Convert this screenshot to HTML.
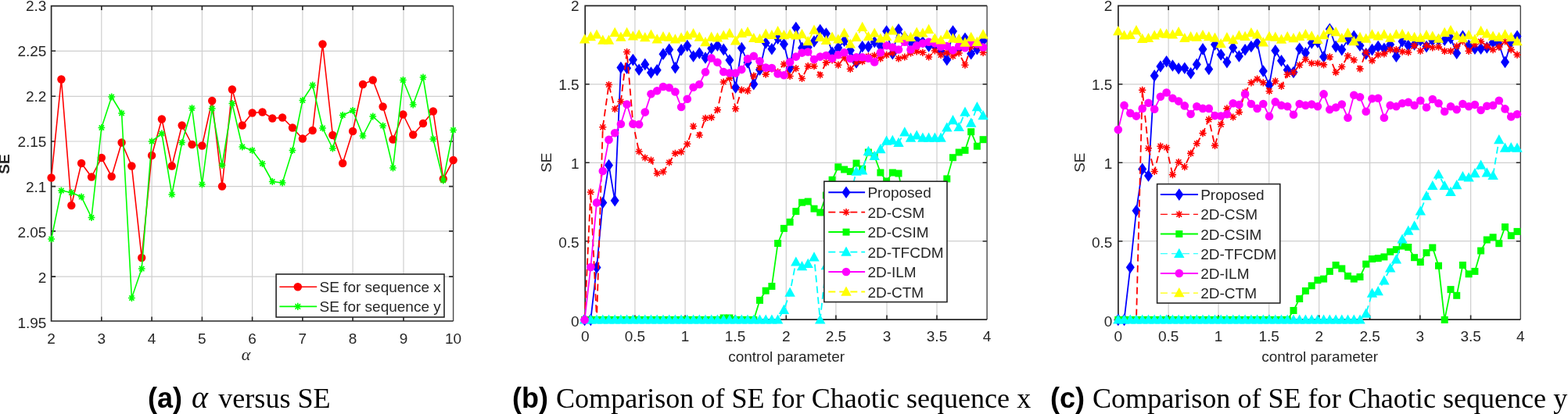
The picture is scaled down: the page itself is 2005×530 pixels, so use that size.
<!DOCTYPE html><html><head><meta charset="utf-8"><style>html,body{margin:0;padding:0;background:#fff;width:2005px;height:530px;overflow:hidden}svg{display:block}text{font-family:"Liberation Sans",Arial,sans-serif;font-size:19px;fill:#262626}.cap{font-family:"Liberation Serif","Times New Roman",serif;font-size:36.1px;fill:#000}.capb{font-family:"Liberation Sans",Arial,sans-serif;font-weight:bold;font-size:36px;fill:#000}</style></head><body>
<svg width="2005" height="530" viewBox="0 0 2005 530">
<rect width="2005" height="530" fill="#fff"/>
<path d="M129.8 7.6V411M194.1 7.6V411M258.4 7.6V411M322.6 7.6V411M386.9 7.6V411M451.1 7.6V411M516 7.6V411M65.6 65.3H579.6M65.6 123.3H579.6M65.6 181H579.6M65.6 238.6H579.6M65.6 295.9H579.6M65.6 354.1H579.6" stroke="rgba(38,38,38,0.22)" stroke-width="1.2" fill="none"/>
<path d="M129.8 411v-5.5M129.8 7.6v5.5M194.1 411v-5.5M194.1 7.6v5.5M258.4 411v-5.5M258.4 7.6v5.5M322.6 411v-5.5M322.6 7.6v5.5M386.9 411v-5.5M386.9 7.6v5.5M451.1 411v-5.5M451.1 7.6v5.5M516 411v-5.5M516 7.6v5.5M65.6 65.3h5.5M579.6 65.3h-5.5M65.6 123.3h5.5M579.6 123.3h-5.5M65.6 181h5.5M579.6 181h-5.5M65.6 238.6h5.5M579.6 238.6h-5.5M65.6 295.9h5.5M579.6 295.9h-5.5M65.6 354.1h5.5M579.6 354.1h-5.5" stroke="#262626" stroke-width="1.6" fill="none"/>
<path d="M579.6 7.6V411" stroke="#4a4a4a" stroke-width="1.4" fill="none"/>
<path d="M579.6 7.6H65.6V411H579.6" stroke="#262626" stroke-width="1.7" fill="none"/>
<polyline points="65.6,227.5 78.4,101.5 91.3,263 104.1,209 117,226.5 129.8,202 142.7,226 155.6,182.5 168.4,212.5 181.2,330 194.1,199 206.9,152.5 219.8,212.5 232.7,160.5 245.5,185 258.4,186.5 271.2,129 284,238.5 296.9,114.5 309.8,160.5 322.6,144.5 335.5,143.5 348.3,151.5 361.1,150.5 374,163.5 386.9,177.5 399.7,167 412.5,56.5 425.4,173 438.2,209 451.1,168 464,108 476.8,102.5 489.6,136.5 502.5,178.5 515.4,146.5 528.2,172.5 541,158 553.9,142.5 566.8,229 579.6,205" fill="none" stroke="#ff0000" stroke-width="1.6" stroke-linejoin="round"/><g><circle cx="65.6" cy="227.5" r="5.2" fill="#ff0000"/><circle cx="78.4" cy="101.5" r="5.2" fill="#ff0000"/><circle cx="91.3" cy="263" r="5.2" fill="#ff0000"/><circle cx="104.1" cy="209" r="5.2" fill="#ff0000"/><circle cx="117" cy="226.5" r="5.2" fill="#ff0000"/><circle cx="129.8" cy="202" r="5.2" fill="#ff0000"/><circle cx="142.7" cy="226" r="5.2" fill="#ff0000"/><circle cx="155.6" cy="182.5" r="5.2" fill="#ff0000"/><circle cx="168.4" cy="212.5" r="5.2" fill="#ff0000"/><circle cx="181.2" cy="330" r="5.2" fill="#ff0000"/><circle cx="194.1" cy="199" r="5.2" fill="#ff0000"/><circle cx="206.9" cy="152.5" r="5.2" fill="#ff0000"/><circle cx="219.8" cy="212.5" r="5.2" fill="#ff0000"/><circle cx="232.7" cy="160.5" r="5.2" fill="#ff0000"/><circle cx="245.5" cy="185" r="5.2" fill="#ff0000"/><circle cx="258.4" cy="186.5" r="5.2" fill="#ff0000"/><circle cx="271.2" cy="129" r="5.2" fill="#ff0000"/><circle cx="284" cy="238.5" r="5.2" fill="#ff0000"/><circle cx="296.9" cy="114.5" r="5.2" fill="#ff0000"/><circle cx="309.8" cy="160.5" r="5.2" fill="#ff0000"/><circle cx="322.6" cy="144.5" r="5.2" fill="#ff0000"/><circle cx="335.5" cy="143.5" r="5.2" fill="#ff0000"/><circle cx="348.3" cy="151.5" r="5.2" fill="#ff0000"/><circle cx="361.1" cy="150.5" r="5.2" fill="#ff0000"/><circle cx="374" cy="163.5" r="5.2" fill="#ff0000"/><circle cx="386.9" cy="177.5" r="5.2" fill="#ff0000"/><circle cx="399.7" cy="167" r="5.2" fill="#ff0000"/><circle cx="412.5" cy="56.5" r="5.2" fill="#ff0000"/><circle cx="425.4" cy="173" r="5.2" fill="#ff0000"/><circle cx="438.2" cy="209" r="5.2" fill="#ff0000"/><circle cx="451.1" cy="168" r="5.2" fill="#ff0000"/><circle cx="464" cy="108" r="5.2" fill="#ff0000"/><circle cx="476.8" cy="102.5" r="5.2" fill="#ff0000"/><circle cx="489.6" cy="136.5" r="5.2" fill="#ff0000"/><circle cx="502.5" cy="178.5" r="5.2" fill="#ff0000"/><circle cx="515.4" cy="146.5" r="5.2" fill="#ff0000"/><circle cx="528.2" cy="172.5" r="5.2" fill="#ff0000"/><circle cx="541" cy="158" r="5.2" fill="#ff0000"/><circle cx="553.9" cy="142.5" r="5.2" fill="#ff0000"/><circle cx="566.8" cy="229" r="5.2" fill="#ff0000"/><circle cx="579.6" cy="205" r="5.2" fill="#ff0000"/></g>
<polyline points="65.6,306 78.4,244 91.3,246.5 104.1,252 117,278.5 129.8,163.5 142.7,124 155.6,145 168.4,381.5 181.2,344 194.1,181 206.9,171 219.8,249 232.7,182.5 245.5,138.5 258.4,236 271.2,139 284,211.5 296.9,132.5 309.8,188 322.6,192.5 335.5,209.5 348.3,232.5 361.1,234 374,192.5 386.9,128.5 399.7,109 412.5,164 425.4,190 438.2,147.5 451.1,141.5 464,174 476.8,149 489.6,161 502.5,215 515.4,102.5 528.2,134 541,99 553.9,178 566.8,231 579.6,166.5" fill="none" stroke="#00ff00" stroke-width="1.6" stroke-linejoin="round"/><g><path d="M61.2 306H70M65.6 301.6V310.4M62.5 302.9L68.7 309.1M62.5 309.1L68.7 302.9" stroke="#00ff00" stroke-width="1.6" fill="none"/><path d="M74.1 244H82.8M78.4 239.6V248.4M75.3 240.9L81.6 247.1M75.3 247.1L81.6 240.9" stroke="#00ff00" stroke-width="1.6" fill="none"/><path d="M86.9 246.5H95.7M91.3 242.1V250.9M88.2 243.4L94.4 249.6M88.2 249.6L94.4 243.4" stroke="#00ff00" stroke-width="1.6" fill="none"/><path d="M99.8 252H108.5M104.1 247.6V256.4M101 248.9L107.3 255.1M101 255.1L107.3 248.9" stroke="#00ff00" stroke-width="1.6" fill="none"/><path d="M112.6 278.5H121.4M117 274.1V282.9M113.9 275.4L120.1 281.6M113.9 281.6L120.1 275.4" stroke="#00ff00" stroke-width="1.6" fill="none"/><path d="M125.5 163.5H134.2M129.8 159.1V167.9M126.7 160.4L133 166.6M126.7 166.6L133 160.4" stroke="#00ff00" stroke-width="1.6" fill="none"/><path d="M138.3 124H147.1M142.7 119.6V128.4M139.6 120.9L145.8 127.1M139.6 127.1L145.8 120.9" stroke="#00ff00" stroke-width="1.6" fill="none"/><path d="M151.2 145H159.9M155.6 140.6V149.4M152.4 141.9L158.7 148.1M152.4 148.1L158.7 141.9" stroke="#00ff00" stroke-width="1.6" fill="none"/><path d="M164 381.5H172.8M168.4 377.1V385.9M165.3 378.4L171.5 384.6M165.3 384.6L171.5 378.4" stroke="#00ff00" stroke-width="1.6" fill="none"/><path d="M176.9 344H185.6M181.2 339.6V348.4M178.1 340.9L184.4 347.1M178.1 347.1L184.4 340.9" stroke="#00ff00" stroke-width="1.6" fill="none"/><path d="M189.7 181H198.5M194.1 176.6V185.4M191 177.9L197.2 184.1M191 184.1L197.2 177.9" stroke="#00ff00" stroke-width="1.6" fill="none"/><path d="M202.6 171H211.3M206.9 166.6V175.4M203.8 167.9L210.1 174.1M203.8 174.1L210.1 167.9" stroke="#00ff00" stroke-width="1.6" fill="none"/><path d="M215.4 249H224.2M219.8 244.6V253.4M216.7 245.9L222.9 252.1M216.7 252.1L222.9 245.9" stroke="#00ff00" stroke-width="1.6" fill="none"/><path d="M228.3 182.5H237M232.7 178.1V186.9M229.5 179.4L235.8 185.6M229.5 185.6L235.8 179.4" stroke="#00ff00" stroke-width="1.6" fill="none"/><path d="M241.1 138.5H249.9M245.5 134.1V142.9M242.4 135.4L248.6 141.6M242.4 141.6L248.6 135.4" stroke="#00ff00" stroke-width="1.6" fill="none"/><path d="M254 236H262.7M258.4 231.6V240.4M255.2 232.9L261.5 239.1M255.2 239.1L261.5 232.9" stroke="#00ff00" stroke-width="1.6" fill="none"/><path d="M266.8 139H275.6M271.2 134.6V143.4M268.1 135.9L274.3 142.1M268.1 142.1L274.3 135.9" stroke="#00ff00" stroke-width="1.6" fill="none"/><path d="M279.7 211.5H288.4M284 207.1V215.9M280.9 208.4L287.2 214.6M280.9 214.6L287.2 208.4" stroke="#00ff00" stroke-width="1.6" fill="none"/><path d="M292.5 132.5H301.3M296.9 128.1V136.9M293.8 129.4L300 135.6M293.8 135.6L300 129.4" stroke="#00ff00" stroke-width="1.6" fill="none"/><path d="M305.4 188H314.1M309.8 183.6V192.4M306.6 184.9L312.9 191.1M306.6 191.1L312.9 184.9" stroke="#00ff00" stroke-width="1.6" fill="none"/><path d="M318.2 192.5H327M322.6 188.1V196.9M319.5 189.4L325.7 195.6M319.5 195.6L325.7 189.4" stroke="#00ff00" stroke-width="1.6" fill="none"/><path d="M331.1 209.5H339.8M335.5 205.1V213.9M332.3 206.4L338.6 212.6M332.3 212.6L338.6 206.4" stroke="#00ff00" stroke-width="1.6" fill="none"/><path d="M343.9 232.5H352.7M348.3 228.1V236.9M345.2 229.4L351.4 235.6M345.2 235.6L351.4 229.4" stroke="#00ff00" stroke-width="1.6" fill="none"/><path d="M356.8 234H365.5M361.1 229.6V238.4M358 230.9L364.3 237.1M358 237.1L364.3 230.9" stroke="#00ff00" stroke-width="1.6" fill="none"/><path d="M369.6 192.5H378.4M374 188.1V196.9M370.9 189.4L377.1 195.6M370.9 195.6L377.1 189.4" stroke="#00ff00" stroke-width="1.6" fill="none"/><path d="M382.5 128.5H391.2M386.9 124.1V132.9M383.7 125.4L390 131.6M383.7 131.6L390 125.4" stroke="#00ff00" stroke-width="1.6" fill="none"/><path d="M395.3 109H404.1M399.7 104.6V113.4M396.6 105.9L402.8 112.1M396.6 112.1L402.8 105.9" stroke="#00ff00" stroke-width="1.6" fill="none"/><path d="M408.2 164H416.9M412.5 159.6V168.4M409.4 160.9L415.7 167.1M409.4 167.1L415.7 160.9" stroke="#00ff00" stroke-width="1.6" fill="none"/><path d="M421 190H429.8M425.4 185.6V194.4M422.3 186.9L428.5 193.1M422.3 193.1L428.5 186.9" stroke="#00ff00" stroke-width="1.6" fill="none"/><path d="M433.9 147.5H442.6M438.2 143.1V151.9M435.1 144.4L441.4 150.6M435.1 150.6L441.4 144.4" stroke="#00ff00" stroke-width="1.6" fill="none"/><path d="M446.7 141.5H455.5M451.1 137.1V145.9M448 138.4L454.2 144.6M448 144.6L454.2 138.4" stroke="#00ff00" stroke-width="1.6" fill="none"/><path d="M459.6 174H468.3M464 169.6V178.4M460.8 170.9L467.1 177.1M460.8 177.1L467.1 170.9" stroke="#00ff00" stroke-width="1.6" fill="none"/><path d="M472.4 149H481.2M476.8 144.6V153.4M473.7 145.9L479.9 152.1M473.7 152.1L479.9 145.9" stroke="#00ff00" stroke-width="1.6" fill="none"/><path d="M485.3 161H494M489.6 156.6V165.4M486.5 157.9L492.8 164.1M486.5 164.1L492.8 157.9" stroke="#00ff00" stroke-width="1.6" fill="none"/><path d="M498.1 215H506.9M502.5 210.6V219.4M499.4 211.9L505.6 218.1M499.4 218.1L505.6 211.9" stroke="#00ff00" stroke-width="1.6" fill="none"/><path d="M511 102.5H519.7M515.4 98.1V106.9M512.2 99.4L518.5 105.6M512.2 105.6L518.5 99.4" stroke="#00ff00" stroke-width="1.6" fill="none"/><path d="M523.8 134H532.6M528.2 129.6V138.4M525.1 130.9L531.3 137.1M525.1 137.1L531.3 130.9" stroke="#00ff00" stroke-width="1.6" fill="none"/><path d="M536.7 99H545.4M541 94.6V103.4M537.9 95.9L544.2 102.1M537.9 102.1L544.2 95.9" stroke="#00ff00" stroke-width="1.6" fill="none"/><path d="M549.5 178H558.3M553.9 173.6V182.4M550.8 174.9L557 181.1M550.8 181.1L557 174.9" stroke="#00ff00" stroke-width="1.6" fill="none"/><path d="M562.4 231H571.1M566.8 226.6V235.4M563.6 227.9L569.9 234.1M563.6 234.1L569.9 227.9" stroke="#00ff00" stroke-width="1.6" fill="none"/><path d="M575.2 166.5H584M579.6 162.1V170.9M576.5 163.4L582.7 169.6M576.5 169.6L582.7 163.4" stroke="#00ff00" stroke-width="1.6" fill="none"/></g>
<text x="65.6" y="439.5" text-anchor="middle">2</text>
<text x="129.8" y="439.5" text-anchor="middle">3</text>
<text x="194.1" y="439.5" text-anchor="middle">4</text>
<text x="258.4" y="439.5" text-anchor="middle">5</text>
<text x="322.6" y="439.5" text-anchor="middle">6</text>
<text x="386.9" y="439.5" text-anchor="middle">7</text>
<text x="451.1" y="439.5" text-anchor="middle">8</text>
<text x="516" y="439.5" text-anchor="middle">9</text>
<text x="579.6" y="439.5" text-anchor="middle">10</text>
<text x="59.4" y="14.3" text-anchor="end">2.3</text>
<text x="59.4" y="72.3" text-anchor="end">2.25</text>
<text x="59.4" y="130.3" text-anchor="end">2.2</text>
<text x="59.4" y="188.3" text-anchor="end">2.15</text>
<text x="59.4" y="246.3" text-anchor="end">2.1</text>
<text x="59.4" y="304.3" text-anchor="end">2.05</text>
<text x="59.4" y="362.3" text-anchor="end">2</text>
<text x="59.4" y="420.3" text-anchor="end">1.95</text>
<text transform="translate(12 210) rotate(-90)" text-anchor="middle" font-weight="bold" font-size="19.5">SE</text>
<text x="314.5" y="460.5" text-anchor="middle" style="font-family:'Liberation Serif',serif;font-style:italic;font-size:22px">α</text>
<rect x="353.1" y="351" width="214.9" height="55" fill="#fff" stroke="#262626" stroke-width="1.6"/>
<line x1="357.4" y1="367.2" x2="405.2" y2="367.2" stroke="#ff0000" stroke-width="1.6"/><circle cx="380.8" cy="367.2" r="5.3" fill="#ff0000"/>
<line x1="357.4" y1="392.4" x2="405.2" y2="392.4" stroke="#00ff00" stroke-width="1.6"/><path d="M376.2 392.4H385.4M380.8 387.8V397M377.5 389.1L384.1 395.7M377.5 395.7L384.1 389.1" stroke="#00ff00" stroke-width="1.6" fill="none"/>
<text x="408.5" y="374.2">SE for sequence x</text><text x="408.5" y="399.4">SE for sequence y</text>
<path d="M811.9 7.4V409.1M876.1 7.4V409.1M940 7.4V409.1M1005.3 7.4V409.1M1068.9 7.4V409.1M1134 7.4V409.1M1198 7.4V409.1M748.2 107.8H1262.1M748.2 208.3H1262.1M748.2 308.7H1262.1" stroke="rgba(38,38,38,0.22)" stroke-width="1.2" fill="none"/>
<path d="M811.9 409.1v-5.5M811.9 7.4v5.5M876.1 409.1v-5.5M876.1 7.4v5.5M940 409.1v-5.5M940 7.4v5.5M1005.3 409.1v-5.5M1005.3 7.4v5.5M1068.9 409.1v-5.5M1068.9 7.4v5.5M1134 409.1v-5.5M1134 7.4v5.5M1198 409.1v-5.5M1198 7.4v5.5M748.2 107.8h5.5M1262.1 107.8h-5.5M748.2 208.3h5.5M1262.1 208.3h-5.5M748.2 308.7h5.5M1262.1 308.7h-5.5" stroke="#262626" stroke-width="1.6" fill="none"/>
<path d="M1262.1 7.4V409.1" stroke="#4a4a4a" stroke-width="1.4" fill="none"/>
<path d="M1262.1 7.4H748.2V409.1H1262.1" stroke="#262626" stroke-width="1.7" fill="none"/>
<polyline points="747.6,409.4 755.3,409.4 763,342.4 770.8,259.5 778.5,211.6 786.2,256.8 793.9,86.6 801.6,87.2 809.4,76.6 817.1,89.3 824.8,82.4 832.5,93 840.2,89.8 848,69.2 855.7,63.4 863.4,86.6 871.1,63.9 878.8,58.6 886.6,72 894.3,68 902,74 909.7,62 917.4,58.2 925.2,63.4 932.9,77 940.6,112 948.3,61.5 956,80 963.8,107.7 971.5,89.2 979.2,55 986.9,62.7 994.6,49.3 1002.4,56.5 1010.1,87 1017.8,35.6 1025.5,61.3 1033.2,60.5 1041,53 1048.7,38.6 1056.4,43.1 1064.1,67.3 1071.8,61.3 1079.6,52.2 1087.3,64.5 1095,80 1102.7,59.7 1110.4,59.7 1118.2,53.7 1125.9,59 1133.6,40.1 1141.3,68.8 1149,37.8 1156.8,47.7 1164.5,53.7 1172.2,51.4 1179.9,53.7 1187.6,59 1195.4,59 1203.1,65.8 1210.8,76.4 1218.5,40.1 1226.2,62 1234,49.2 1241.7,68.8 1249.4,62.8 1257.1,52.2" fill="none" stroke="#0000ff" stroke-width="1.8" stroke-linejoin="round"/><g><path d="M747.6 401.6L753.1 409.4L747.6 417.2L742.1 409.4Z" fill="#0000ff"/><path d="M755.3 401.6L760.8 409.4L755.3 417.2L749.8 409.4Z" fill="#0000ff"/><path d="M763 334.6L768.5 342.4L763 350.2L757.5 342.4Z" fill="#0000ff"/><path d="M770.8 251.7L776.3 259.5L770.8 267.3L765.3 259.5Z" fill="#0000ff"/><path d="M778.5 203.8L784 211.6L778.5 219.4L773 211.6Z" fill="#0000ff"/><path d="M786.2 249L791.7 256.8L786.2 264.6L780.7 256.8Z" fill="#0000ff"/><path d="M793.9 78.8L799.4 86.6L793.9 94.4L788.4 86.6Z" fill="#0000ff"/><path d="M801.6 79.4L807.1 87.2L801.6 95L796.1 87.2Z" fill="#0000ff"/><path d="M809.4 68.8L814.9 76.6L809.4 84.4L803.9 76.6Z" fill="#0000ff"/><path d="M817.1 81.5L822.6 89.3L817.1 97.1L811.6 89.3Z" fill="#0000ff"/><path d="M824.8 74.6L830.3 82.4L824.8 90.2L819.3 82.4Z" fill="#0000ff"/><path d="M832.5 85.2L838 93L832.5 100.8L827 93Z" fill="#0000ff"/><path d="M840.2 82L845.7 89.8L840.2 97.6L834.7 89.8Z" fill="#0000ff"/><path d="M848 61.4L853.5 69.2L848 77L842.5 69.2Z" fill="#0000ff"/><path d="M855.7 55.6L861.2 63.4L855.7 71.2L850.2 63.4Z" fill="#0000ff"/><path d="M863.4 78.8L868.9 86.6L863.4 94.4L857.9 86.6Z" fill="#0000ff"/><path d="M871.1 56.1L876.6 63.9L871.1 71.7L865.6 63.9Z" fill="#0000ff"/><path d="M878.8 50.8L884.3 58.6L878.8 66.4L873.3 58.6Z" fill="#0000ff"/><path d="M886.6 64.2L892.1 72L886.6 79.8L881.1 72Z" fill="#0000ff"/><path d="M894.3 60.2L899.8 68L894.3 75.8L888.8 68Z" fill="#0000ff"/><path d="M902 66.2L907.5 74L902 81.8L896.5 74Z" fill="#0000ff"/><path d="M909.7 54.2L915.2 62L909.7 69.8L904.2 62Z" fill="#0000ff"/><path d="M917.4 50.4L922.9 58.2L917.4 66L911.9 58.2Z" fill="#0000ff"/><path d="M925.2 55.6L930.7 63.4L925.2 71.2L919.7 63.4Z" fill="#0000ff"/><path d="M932.9 69.2L938.4 77L932.9 84.8L927.4 77Z" fill="#0000ff"/><path d="M940.6 104.2L946.1 112L940.6 119.8L935.1 112Z" fill="#0000ff"/><path d="M948.3 53.7L953.8 61.5L948.3 69.3L942.8 61.5Z" fill="#0000ff"/><path d="M956 72.2L961.5 80L956 87.8L950.5 80Z" fill="#0000ff"/><path d="M963.8 99.9L969.3 107.7L963.8 115.5L958.3 107.7Z" fill="#0000ff"/><path d="M971.5 81.4L977 89.2L971.5 97L966 89.2Z" fill="#0000ff"/><path d="M979.2 47.2L984.7 55L979.2 62.8L973.7 55Z" fill="#0000ff"/><path d="M986.9 54.9L992.4 62.7L986.9 70.5L981.4 62.7Z" fill="#0000ff"/><path d="M994.6 41.5L1000.1 49.3L994.6 57.1L989.1 49.3Z" fill="#0000ff"/><path d="M1002.4 48.7L1007.9 56.5L1002.4 64.3L996.9 56.5Z" fill="#0000ff"/><path d="M1010.1 79.2L1015.6 87L1010.1 94.8L1004.6 87Z" fill="#0000ff"/><path d="M1017.8 27.8L1023.3 35.6L1017.8 43.4L1012.3 35.6Z" fill="#0000ff"/><path d="M1025.5 53.5L1031 61.3L1025.5 69.1L1020 61.3Z" fill="#0000ff"/><path d="M1033.2 52.7L1038.7 60.5L1033.2 68.3L1027.7 60.5Z" fill="#0000ff"/><path d="M1041 45.2L1046.5 53L1041 60.8L1035.5 53Z" fill="#0000ff"/><path d="M1048.7 30.8L1054.2 38.6L1048.7 46.4L1043.2 38.6Z" fill="#0000ff"/><path d="M1056.4 35.3L1061.9 43.1L1056.4 50.9L1050.9 43.1Z" fill="#0000ff"/><path d="M1064.1 59.5L1069.6 67.3L1064.1 75.1L1058.6 67.3Z" fill="#0000ff"/><path d="M1071.8 53.5L1077.3 61.3L1071.8 69.1L1066.3 61.3Z" fill="#0000ff"/><path d="M1079.6 44.4L1085.1 52.2L1079.6 60L1074.1 52.2Z" fill="#0000ff"/><path d="M1087.3 56.7L1092.8 64.5L1087.3 72.3L1081.8 64.5Z" fill="#0000ff"/><path d="M1095 72.2L1100.5 80L1095 87.8L1089.5 80Z" fill="#0000ff"/><path d="M1102.7 51.9L1108.2 59.7L1102.7 67.5L1097.2 59.7Z" fill="#0000ff"/><path d="M1110.4 51.9L1115.9 59.7L1110.4 67.5L1104.9 59.7Z" fill="#0000ff"/><path d="M1118.2 45.9L1123.7 53.7L1118.2 61.5L1112.7 53.7Z" fill="#0000ff"/><path d="M1125.9 51.2L1131.4 59L1125.9 66.8L1120.4 59Z" fill="#0000ff"/><path d="M1133.6 32.3L1139.1 40.1L1133.6 47.9L1128.1 40.1Z" fill="#0000ff"/><path d="M1141.3 61L1146.8 68.8L1141.3 76.6L1135.8 68.8Z" fill="#0000ff"/><path d="M1149 30L1154.5 37.8L1149 45.6L1143.5 37.8Z" fill="#0000ff"/><path d="M1156.8 39.9L1162.3 47.7L1156.8 55.5L1151.3 47.7Z" fill="#0000ff"/><path d="M1164.5 45.9L1170 53.7L1164.5 61.5L1159 53.7Z" fill="#0000ff"/><path d="M1172.2 43.6L1177.7 51.4L1172.2 59.2L1166.7 51.4Z" fill="#0000ff"/><path d="M1179.9 45.9L1185.4 53.7L1179.9 61.5L1174.4 53.7Z" fill="#0000ff"/><path d="M1187.6 51.2L1193.1 59L1187.6 66.8L1182.1 59Z" fill="#0000ff"/><path d="M1195.4 51.2L1200.9 59L1195.4 66.8L1189.9 59Z" fill="#0000ff"/><path d="M1203.1 58L1208.6 65.8L1203.1 73.6L1197.6 65.8Z" fill="#0000ff"/><path d="M1210.8 68.6L1216.3 76.4L1210.8 84.2L1205.3 76.4Z" fill="#0000ff"/><path d="M1218.5 32.3L1224 40.1L1218.5 47.9L1213 40.1Z" fill="#0000ff"/><path d="M1226.2 54.2L1231.7 62L1226.2 69.8L1220.7 62Z" fill="#0000ff"/><path d="M1234 41.4L1239.5 49.2L1234 57L1228.5 49.2Z" fill="#0000ff"/><path d="M1241.7 61L1247.2 68.8L1241.7 76.6L1236.2 68.8Z" fill="#0000ff"/><path d="M1249.4 55L1254.9 62.8L1249.4 70.6L1243.9 62.8Z" fill="#0000ff"/><path d="M1257.1 44.4L1262.6 52.2L1257.1 60L1251.6 52.2Z" fill="#0000ff"/></g>
<polyline points="747.6,409.4 755.3,246 763,409.4 770.8,162.8 778.5,108.5 786.2,139.5 793.9,130 801.6,66.5 809.4,158 817.1,194 824.8,202 832.5,205 840.2,222 848,220 855.7,208 863.4,196.4 871.1,194.3 878.8,184.3 886.6,161.5 894.3,173 902,151.3 909.7,150.4 917.4,140.6 925.2,105 932.9,100.1 940.6,139.3 948.3,115 956,116.3 963.8,97.2 971.5,86.5 979.2,95.1 986.9,88 994.6,92 1002.4,82 1010.1,97.5 1017.8,87.7 1025.5,100.5 1033.2,84.7 1041,84.7 1048.7,96 1056.4,80.1 1064.1,77 1071.8,83.2 1079.6,74 1087.3,88.4 1095,80 1102.7,78.6 1110.4,72 1118.2,71 1125.9,74.8 1133.6,70.3 1141.3,68 1149,74.8 1156.8,73 1164.5,68 1172.2,65.8 1179.9,67.3 1187.6,73 1195.4,65 1203.1,70.3 1210.8,67.3 1218.5,71.8 1226.2,68 1234,83.2 1241.7,59.7 1249.4,58.2 1257.1,67.3" fill="none" stroke="#ff0000" stroke-width="1.8" stroke-linejoin="round" stroke-dasharray="9 5"/><g><path d="M743 409.4H752.2M747.6 404.8V414M744.3 406.1L750.9 412.7M744.3 412.7L750.9 406.1" stroke="#ff0000" stroke-width="1.6" fill="none"/><path d="M750.7 246H759.9M755.3 241.4V250.6M752 242.7L758.6 249.3M752 249.3L758.6 242.7" stroke="#ff0000" stroke-width="1.6" fill="none"/><path d="M758.4 409.4H767.6M763 404.8V414M759.7 406.1L766.4 412.7M759.7 412.7L766.4 406.1" stroke="#ff0000" stroke-width="1.6" fill="none"/><path d="M766.2 162.8H775.4M770.8 158.2V167.4M767.4 159.5L774.1 166.1M767.4 166.1L774.1 159.5" stroke="#ff0000" stroke-width="1.6" fill="none"/><path d="M773.9 108.5H783.1M778.5 103.9V113.1M775.2 105.2L781.8 111.8M775.2 111.8L781.8 105.2" stroke="#ff0000" stroke-width="1.6" fill="none"/><path d="M781.6 139.5H790.8M786.2 134.9V144.1M782.9 136.2L789.5 142.8M782.9 142.8L789.5 136.2" stroke="#ff0000" stroke-width="1.6" fill="none"/><path d="M789.3 130H798.5M793.9 125.4V134.6M790.6 126.7L797.2 133.3M790.6 133.3L797.2 126.7" stroke="#ff0000" stroke-width="1.6" fill="none"/><path d="M797 66.5H806.2M801.6 61.9V71.1M798.3 63.2L805 69.8M798.3 69.8L805 63.2" stroke="#ff0000" stroke-width="1.6" fill="none"/><path d="M804.8 158H814M809.4 153.4V162.6M806 154.7L812.7 161.3M806 161.3L812.7 154.7" stroke="#ff0000" stroke-width="1.6" fill="none"/><path d="M812.5 194H821.7M817.1 189.4V198.6M813.8 190.7L820.4 197.3M813.8 197.3L820.4 190.7" stroke="#ff0000" stroke-width="1.6" fill="none"/><path d="M820.2 202H829.4M824.8 197.4V206.6M821.5 198.7L828.1 205.3M821.5 205.3L828.1 198.7" stroke="#ff0000" stroke-width="1.6" fill="none"/><path d="M827.9 205H837.1M832.5 200.4V209.6M829.2 201.7L835.8 208.3M829.2 208.3L835.8 201.7" stroke="#ff0000" stroke-width="1.6" fill="none"/><path d="M835.6 222H844.8M840.2 217.4V226.6M836.9 218.7L843.6 225.3M836.9 225.3L843.6 218.7" stroke="#ff0000" stroke-width="1.6" fill="none"/><path d="M843.4 220H852.6M848 215.4V224.6M844.6 216.7L851.3 223.3M844.6 223.3L851.3 216.7" stroke="#ff0000" stroke-width="1.6" fill="none"/><path d="M851.1 208H860.3M855.7 203.4V212.6M852.4 204.7L859 211.3M852.4 211.3L859 204.7" stroke="#ff0000" stroke-width="1.6" fill="none"/><path d="M858.8 196.4H868M863.4 191.8V201M860.1 193.1L866.7 199.7M860.1 199.7L866.7 193.1" stroke="#ff0000" stroke-width="1.6" fill="none"/><path d="M866.5 194.3H875.7M871.1 189.7V198.9M867.8 191L874.4 197.6M867.8 197.6L874.4 191" stroke="#ff0000" stroke-width="1.6" fill="none"/><path d="M874.2 184.3H883.4M878.8 179.7V188.9M875.5 181L882.2 187.6M875.5 187.6L882.2 181" stroke="#ff0000" stroke-width="1.6" fill="none"/><path d="M882 161.5H891.2M886.6 156.9V166.1M883.2 158.2L889.9 164.8M883.2 164.8L889.9 158.2" stroke="#ff0000" stroke-width="1.6" fill="none"/><path d="M889.7 173H898.9M894.3 168.4V177.6M891 169.7L897.6 176.3M891 176.3L897.6 169.7" stroke="#ff0000" stroke-width="1.6" fill="none"/><path d="M897.4 151.3H906.6M902 146.7V155.9M898.7 148L905.3 154.6M898.7 154.6L905.3 148" stroke="#ff0000" stroke-width="1.6" fill="none"/><path d="M905.1 150.4H914.3M909.7 145.8V155M906.4 147.1L913 153.7M906.4 153.7L913 147.1" stroke="#ff0000" stroke-width="1.6" fill="none"/><path d="M912.8 140.6H922M917.4 136V145.2M914.1 137.3L920.8 143.9M914.1 143.9L920.8 137.3" stroke="#ff0000" stroke-width="1.6" fill="none"/><path d="M920.6 105H929.8M925.2 100.4V109.6M921.8 101.7L928.5 108.3M921.8 108.3L928.5 101.7" stroke="#ff0000" stroke-width="1.6" fill="none"/><path d="M928.3 100.1H937.5M932.9 95.5V104.7M929.6 96.8L936.2 103.4M929.6 103.4L936.2 96.8" stroke="#ff0000" stroke-width="1.6" fill="none"/><path d="M936 139.3H945.2M940.6 134.7V143.9M937.3 136L943.9 142.6M937.3 142.6L943.9 136" stroke="#ff0000" stroke-width="1.6" fill="none"/><path d="M943.7 115H952.9M948.3 110.4V119.6M945 111.7L951.6 118.3M945 118.3L951.6 111.7" stroke="#ff0000" stroke-width="1.6" fill="none"/><path d="M951.4 116.3H960.6M956 111.7V120.9M952.7 113L959.4 119.6M952.7 119.6L959.4 113" stroke="#ff0000" stroke-width="1.6" fill="none"/><path d="M959.2 97.2H968.4M963.8 92.6V101.8M960.4 93.9L967.1 100.5M960.4 100.5L967.1 93.9" stroke="#ff0000" stroke-width="1.6" fill="none"/><path d="M966.9 86.5H976.1M971.5 81.9V91.1M968.2 83.2L974.8 89.8M968.2 89.8L974.8 83.2" stroke="#ff0000" stroke-width="1.6" fill="none"/><path d="M974.6 95.1H983.8M979.2 90.5V99.7M975.9 91.8L982.5 98.4M975.9 98.4L982.5 91.8" stroke="#ff0000" stroke-width="1.6" fill="none"/><path d="M982.3 88H991.5M986.9 83.4V92.6M983.6 84.7L990.2 91.3M983.6 91.3L990.2 84.7" stroke="#ff0000" stroke-width="1.6" fill="none"/><path d="M990 92H999.2M994.6 87.4V96.6M991.3 88.7L998 95.3M991.3 95.3L998 88.7" stroke="#ff0000" stroke-width="1.6" fill="none"/><path d="M997.8 82H1007M1002.4 77.4V86.6M999 78.7L1005.7 85.3M999 85.3L1005.7 78.7" stroke="#ff0000" stroke-width="1.6" fill="none"/><path d="M1005.5 97.5H1014.7M1010.1 92.9V102.1M1006.8 94.2L1013.4 100.8M1006.8 100.8L1013.4 94.2" stroke="#ff0000" stroke-width="1.6" fill="none"/><path d="M1013.2 87.7H1022.4M1017.8 83.1V92.3M1014.5 84.4L1021.1 91M1014.5 91L1021.1 84.4" stroke="#ff0000" stroke-width="1.6" fill="none"/><path d="M1020.9 100.5H1030.1M1025.5 95.9V105.1M1022.2 97.2L1028.8 103.8M1022.2 103.8L1028.8 97.2" stroke="#ff0000" stroke-width="1.6" fill="none"/><path d="M1028.6 84.7H1037.8M1033.2 80.1V89.3M1029.9 81.4L1036.6 88M1029.9 88L1036.6 81.4" stroke="#ff0000" stroke-width="1.6" fill="none"/><path d="M1036.4 84.7H1045.6M1041 80.1V89.3M1037.6 81.4L1044.3 88M1037.6 88L1044.3 81.4" stroke="#ff0000" stroke-width="1.6" fill="none"/><path d="M1044.1 96H1053.3M1048.7 91.4V100.6M1045.4 92.7L1052 99.3M1045.4 99.3L1052 92.7" stroke="#ff0000" stroke-width="1.6" fill="none"/><path d="M1051.8 80.1H1061M1056.4 75.5V84.7M1053.1 76.8L1059.7 83.4M1053.1 83.4L1059.7 76.8" stroke="#ff0000" stroke-width="1.6" fill="none"/><path d="M1059.5 77H1068.7M1064.1 72.4V81.6M1060.8 73.7L1067.4 80.3M1060.8 80.3L1067.4 73.7" stroke="#ff0000" stroke-width="1.6" fill="none"/><path d="M1067.2 83.2H1076.4M1071.8 78.6V87.8M1068.5 79.9L1075.2 86.5M1068.5 86.5L1075.2 79.9" stroke="#ff0000" stroke-width="1.6" fill="none"/><path d="M1075 74H1084.2M1079.6 69.4V78.6M1076.2 70.7L1082.9 77.3M1076.2 77.3L1082.9 70.7" stroke="#ff0000" stroke-width="1.6" fill="none"/><path d="M1082.7 88.4H1091.9M1087.3 83.8V93M1084 85.1L1090.6 91.7M1084 91.7L1090.6 85.1" stroke="#ff0000" stroke-width="1.6" fill="none"/><path d="M1090.4 80H1099.6M1095 75.4V84.6M1091.7 76.7L1098.3 83.3M1091.7 83.3L1098.3 76.7" stroke="#ff0000" stroke-width="1.6" fill="none"/><path d="M1098.1 78.6H1107.3M1102.7 74V83.2M1099.4 75.3L1106 81.9M1099.4 81.9L1106 75.3" stroke="#ff0000" stroke-width="1.6" fill="none"/><path d="M1105.8 72H1115M1110.4 67.4V76.6M1107.1 68.7L1113.8 75.3M1107.1 75.3L1113.8 68.7" stroke="#ff0000" stroke-width="1.6" fill="none"/><path d="M1113.6 71H1122.8M1118.2 66.4V75.6M1114.8 67.7L1121.5 74.3M1114.8 74.3L1121.5 67.7" stroke="#ff0000" stroke-width="1.6" fill="none"/><path d="M1121.3 74.8H1130.5M1125.9 70.2V79.4M1122.6 71.5L1129.2 78.1M1122.6 78.1L1129.2 71.5" stroke="#ff0000" stroke-width="1.6" fill="none"/><path d="M1129 70.3H1138.2M1133.6 65.7V74.9M1130.3 67L1136.9 73.6M1130.3 73.6L1136.9 67" stroke="#ff0000" stroke-width="1.6" fill="none"/><path d="M1136.7 68H1145.9M1141.3 63.4V72.6M1138 64.7L1144.6 71.3M1138 71.3L1144.6 64.7" stroke="#ff0000" stroke-width="1.6" fill="none"/><path d="M1144.4 74.8H1153.6M1149 70.2V79.4M1145.7 71.5L1152.4 78.1M1145.7 78.1L1152.4 71.5" stroke="#ff0000" stroke-width="1.6" fill="none"/><path d="M1152.2 73H1161.4M1156.8 68.4V77.6M1153.4 69.7L1160.1 76.3M1153.4 76.3L1160.1 69.7" stroke="#ff0000" stroke-width="1.6" fill="none"/><path d="M1159.9 68H1169.1M1164.5 63.4V72.6M1161.2 64.7L1167.8 71.3M1161.2 71.3L1167.8 64.7" stroke="#ff0000" stroke-width="1.6" fill="none"/><path d="M1167.6 65.8H1176.8M1172.2 61.2V70.4M1168.9 62.5L1175.5 69.1M1168.9 69.1L1175.5 62.5" stroke="#ff0000" stroke-width="1.6" fill="none"/><path d="M1175.3 67.3H1184.5M1179.9 62.7V71.9M1176.6 64L1183.2 70.6M1176.6 70.6L1183.2 64" stroke="#ff0000" stroke-width="1.6" fill="none"/><path d="M1183 73H1192.2M1187.6 68.4V77.6M1184.3 69.7L1191 76.3M1184.3 76.3L1191 69.7" stroke="#ff0000" stroke-width="1.6" fill="none"/><path d="M1190.8 65H1200M1195.4 60.4V69.6M1192 61.7L1198.7 68.3M1192 68.3L1198.7 61.7" stroke="#ff0000" stroke-width="1.6" fill="none"/><path d="M1198.5 70.3H1207.7M1203.1 65.7V74.9M1199.8 67L1206.4 73.6M1199.8 73.6L1206.4 67" stroke="#ff0000" stroke-width="1.6" fill="none"/><path d="M1206.2 67.3H1215.4M1210.8 62.7V71.9M1207.5 64L1214.1 70.6M1207.5 70.6L1214.1 64" stroke="#ff0000" stroke-width="1.6" fill="none"/><path d="M1213.9 71.8H1223.1M1218.5 67.2V76.4M1215.2 68.5L1221.8 75.1M1215.2 75.1L1221.8 68.5" stroke="#ff0000" stroke-width="1.6" fill="none"/><path d="M1221.6 68H1230.8M1226.2 63.4V72.6M1222.9 64.7L1229.6 71.3M1222.9 71.3L1229.6 64.7" stroke="#ff0000" stroke-width="1.6" fill="none"/><path d="M1229.4 83.2H1238.6M1234 78.6V87.8M1230.6 79.9L1237.3 86.5M1230.6 86.5L1237.3 79.9" stroke="#ff0000" stroke-width="1.6" fill="none"/><path d="M1237.1 59.7H1246.3M1241.7 55.1V64.3M1238.4 56.4L1245 63M1238.4 63L1245 56.4" stroke="#ff0000" stroke-width="1.6" fill="none"/><path d="M1244.8 58.2H1254M1249.4 53.6V62.8M1246.1 54.9L1252.7 61.5M1246.1 61.5L1252.7 54.9" stroke="#ff0000" stroke-width="1.6" fill="none"/><path d="M1252.5 67.3H1261.7M1257.1 62.7V71.9M1253.8 64L1260.4 70.6M1253.8 70.6L1260.4 64" stroke="#ff0000" stroke-width="1.6" fill="none"/></g>
<polyline points="747.6,409.4 755.3,409.4 763,409.4 770.8,409.4 778.5,409.4 786.2,409.4 793.9,409.4 801.6,409.4 809.4,409.4 817.1,409.4 824.8,409.4 832.5,409.4 840.2,409.4 848,409.4 855.7,409.4 863.4,409.4 871.1,409.4 878.8,409.4 886.6,409.4 894.3,409.4 902,409.4 909.7,409.4 917.4,409.4 925.2,407 932.9,407 940.6,409.4 948.3,409.4 956,409.4 963.8,409.4 971.5,384.4 979.2,372.2 986.9,366.5 994.6,311.5 1002.4,292.4 1010.1,284.3 1017.8,270.6 1025.5,259.2 1033.2,258 1041,267.2 1048.7,272 1056.4,250 1064.1,230.2 1071.8,213.8 1079.6,217 1087.3,219.6 1095,209 1102.7,216.2 1110.4,195 1118.2,199.8 1125.9,221 1133.6,232 1141.3,221 1149,222 1156.8,262 1164.5,268 1172.2,265 1179.9,260 1187.6,255 1195.4,250 1203.1,245 1210.8,228.9 1218.5,201.7 1226.2,195 1234,192.4 1241.7,168.7 1249.4,187.2 1257.1,178.7" fill="none" stroke="#00ff00" stroke-width="1.8" stroke-linejoin="round"/><g><rect x="743.1" y="404.9" width="9" height="9" fill="#00ff00"/><rect x="750.8" y="404.9" width="9" height="9" fill="#00ff00"/><rect x="758.5" y="404.9" width="9" height="9" fill="#00ff00"/><rect x="766.3" y="404.9" width="9" height="9" fill="#00ff00"/><rect x="774" y="404.9" width="9" height="9" fill="#00ff00"/><rect x="781.7" y="404.9" width="9" height="9" fill="#00ff00"/><rect x="789.4" y="404.9" width="9" height="9" fill="#00ff00"/><rect x="797.1" y="404.9" width="9" height="9" fill="#00ff00"/><rect x="804.9" y="404.9" width="9" height="9" fill="#00ff00"/><rect x="812.6" y="404.9" width="9" height="9" fill="#00ff00"/><rect x="820.3" y="404.9" width="9" height="9" fill="#00ff00"/><rect x="828" y="404.9" width="9" height="9" fill="#00ff00"/><rect x="835.7" y="404.9" width="9" height="9" fill="#00ff00"/><rect x="843.5" y="404.9" width="9" height="9" fill="#00ff00"/><rect x="851.2" y="404.9" width="9" height="9" fill="#00ff00"/><rect x="858.9" y="404.9" width="9" height="9" fill="#00ff00"/><rect x="866.6" y="404.9" width="9" height="9" fill="#00ff00"/><rect x="874.3" y="404.9" width="9" height="9" fill="#00ff00"/><rect x="882.1" y="404.9" width="9" height="9" fill="#00ff00"/><rect x="889.8" y="404.9" width="9" height="9" fill="#00ff00"/><rect x="897.5" y="404.9" width="9" height="9" fill="#00ff00"/><rect x="905.2" y="404.9" width="9" height="9" fill="#00ff00"/><rect x="912.9" y="404.9" width="9" height="9" fill="#00ff00"/><rect x="920.7" y="402.5" width="9" height="9" fill="#00ff00"/><rect x="928.4" y="402.5" width="9" height="9" fill="#00ff00"/><rect x="936.1" y="404.9" width="9" height="9" fill="#00ff00"/><rect x="943.8" y="404.9" width="9" height="9" fill="#00ff00"/><rect x="951.5" y="404.9" width="9" height="9" fill="#00ff00"/><rect x="959.3" y="404.9" width="9" height="9" fill="#00ff00"/><rect x="967" y="379.9" width="9" height="9" fill="#00ff00"/><rect x="974.7" y="367.7" width="9" height="9" fill="#00ff00"/><rect x="982.4" y="362" width="9" height="9" fill="#00ff00"/><rect x="990.1" y="307" width="9" height="9" fill="#00ff00"/><rect x="997.9" y="287.9" width="9" height="9" fill="#00ff00"/><rect x="1005.6" y="279.8" width="9" height="9" fill="#00ff00"/><rect x="1013.3" y="266.1" width="9" height="9" fill="#00ff00"/><rect x="1021" y="254.7" width="9" height="9" fill="#00ff00"/><rect x="1028.7" y="253.5" width="9" height="9" fill="#00ff00"/><rect x="1036.5" y="262.7" width="9" height="9" fill="#00ff00"/><rect x="1044.2" y="267.5" width="9" height="9" fill="#00ff00"/><rect x="1051.9" y="245.5" width="9" height="9" fill="#00ff00"/><rect x="1059.6" y="225.7" width="9" height="9" fill="#00ff00"/><rect x="1067.3" y="209.3" width="9" height="9" fill="#00ff00"/><rect x="1075.1" y="212.5" width="9" height="9" fill="#00ff00"/><rect x="1082.8" y="215.1" width="9" height="9" fill="#00ff00"/><rect x="1090.5" y="204.5" width="9" height="9" fill="#00ff00"/><rect x="1098.2" y="211.7" width="9" height="9" fill="#00ff00"/><rect x="1105.9" y="190.5" width="9" height="9" fill="#00ff00"/><rect x="1113.7" y="195.3" width="9" height="9" fill="#00ff00"/><rect x="1121.4" y="216.5" width="9" height="9" fill="#00ff00"/><rect x="1129.1" y="227.5" width="9" height="9" fill="#00ff00"/><rect x="1136.8" y="216.5" width="9" height="9" fill="#00ff00"/><rect x="1144.5" y="217.5" width="9" height="9" fill="#00ff00"/><rect x="1152.3" y="257.5" width="9" height="9" fill="#00ff00"/><rect x="1160" y="263.5" width="9" height="9" fill="#00ff00"/><rect x="1167.7" y="260.5" width="9" height="9" fill="#00ff00"/><rect x="1175.4" y="255.5" width="9" height="9" fill="#00ff00"/><rect x="1183.1" y="250.5" width="9" height="9" fill="#00ff00"/><rect x="1190.9" y="245.5" width="9" height="9" fill="#00ff00"/><rect x="1198.6" y="240.5" width="9" height="9" fill="#00ff00"/><rect x="1206.3" y="224.4" width="9" height="9" fill="#00ff00"/><rect x="1214" y="197.2" width="9" height="9" fill="#00ff00"/><rect x="1221.7" y="190.5" width="9" height="9" fill="#00ff00"/><rect x="1229.5" y="187.9" width="9" height="9" fill="#00ff00"/><rect x="1237.2" y="164.2" width="9" height="9" fill="#00ff00"/><rect x="1244.9" y="182.7" width="9" height="9" fill="#00ff00"/><rect x="1252.6" y="174.2" width="9" height="9" fill="#00ff00"/></g>
<polyline points="747.6,409.4 755.3,409.4 763,409.4 770.8,409.4 778.5,409.4 786.2,409.4 793.9,409.4 801.6,409.4 809.4,409.4 817.1,409.4 824.8,409.4 832.5,409.4 840.2,409.4 848,409.4 855.7,409.4 863.4,409.4 871.1,409.4 878.8,409.4 886.6,409.4 894.3,409.4 902,409.4 909.7,409.4 917.4,409.4 925.2,409.4 932.9,409.4 940.6,409.4 948.3,409.4 956,409.4 963.8,409.4 971.5,409.4 979.2,409.4 986.9,409.4 994.6,409.4 1002.4,396.7 1010.1,374.6 1017.8,335.4 1025.5,341 1033.2,337.8 1041,329.2 1048.7,409.4 1056.4,340 1064.1,320 1071.8,300 1079.6,275 1087.3,250 1095,219.5 1102.7,218.3 1110.4,193.8 1118.2,199.8 1125.9,191.1 1133.6,180.6 1141.3,179.8 1149,182.7 1156.8,169.2 1164.5,176.6 1172.2,173.4 1179.9,176.6 1187.6,176.6 1195.4,176.6 1203.1,176.6 1210.8,163.4 1218.5,154.1 1226.2,162.9 1234,143.6 1241.7,157.6 1249.4,137 1257.1,148.1" fill="none" stroke="#00ffff" stroke-width="1.8" stroke-linejoin="round" stroke-dasharray="9 5"/><g><path d="M747.6 402.4L754.3 414.6L740.9 414.6Z" fill="#00ffff"/><path d="M755.3 402.4L762 414.6L748.6 414.6Z" fill="#00ffff"/><path d="M763 402.4L769.7 414.6L756.3 414.6Z" fill="#00ffff"/><path d="M770.8 402.4L777.5 414.6L764.1 414.6Z" fill="#00ffff"/><path d="M778.5 402.4L785.2 414.6L771.8 414.6Z" fill="#00ffff"/><path d="M786.2 402.4L792.9 414.6L779.5 414.6Z" fill="#00ffff"/><path d="M793.9 402.4L800.6 414.6L787.2 414.6Z" fill="#00ffff"/><path d="M801.6 402.4L808.3 414.6L794.9 414.6Z" fill="#00ffff"/><path d="M809.4 402.4L816.1 414.6L802.7 414.6Z" fill="#00ffff"/><path d="M817.1 402.4L823.8 414.6L810.4 414.6Z" fill="#00ffff"/><path d="M824.8 402.4L831.5 414.6L818.1 414.6Z" fill="#00ffff"/><path d="M832.5 402.4L839.2 414.6L825.8 414.6Z" fill="#00ffff"/><path d="M840.2 402.4L846.9 414.6L833.5 414.6Z" fill="#00ffff"/><path d="M848 402.4L854.7 414.6L841.3 414.6Z" fill="#00ffff"/><path d="M855.7 402.4L862.4 414.6L849 414.6Z" fill="#00ffff"/><path d="M863.4 402.4L870.1 414.6L856.7 414.6Z" fill="#00ffff"/><path d="M871.1 402.4L877.8 414.6L864.4 414.6Z" fill="#00ffff"/><path d="M878.8 402.4L885.5 414.6L872.1 414.6Z" fill="#00ffff"/><path d="M886.6 402.4L893.3 414.6L879.9 414.6Z" fill="#00ffff"/><path d="M894.3 402.4L901 414.6L887.6 414.6Z" fill="#00ffff"/><path d="M902 402.4L908.7 414.6L895.3 414.6Z" fill="#00ffff"/><path d="M909.7 402.4L916.4 414.6L903 414.6Z" fill="#00ffff"/><path d="M917.4 402.4L924.1 414.6L910.7 414.6Z" fill="#00ffff"/><path d="M925.2 402.4L931.9 414.6L918.5 414.6Z" fill="#00ffff"/><path d="M932.9 402.4L939.6 414.6L926.2 414.6Z" fill="#00ffff"/><path d="M940.6 402.4L947.3 414.6L933.9 414.6Z" fill="#00ffff"/><path d="M948.3 402.4L955 414.6L941.6 414.6Z" fill="#00ffff"/><path d="M956 402.4L962.7 414.6L949.3 414.6Z" fill="#00ffff"/><path d="M963.8 402.4L970.5 414.6L957.1 414.6Z" fill="#00ffff"/><path d="M971.5 402.4L978.2 414.6L964.8 414.6Z" fill="#00ffff"/><path d="M979.2 402.4L985.9 414.6L972.5 414.6Z" fill="#00ffff"/><path d="M986.9 402.4L993.6 414.6L980.2 414.6Z" fill="#00ffff"/><path d="M994.6 402.4L1001.3 414.6L987.9 414.6Z" fill="#00ffff"/><path d="M1002.4 389.7L1009.1 401.9L995.7 401.9Z" fill="#00ffff"/><path d="M1010.1 367.6L1016.8 379.8L1003.4 379.8Z" fill="#00ffff"/><path d="M1017.8 328.4L1024.5 340.6L1011.1 340.6Z" fill="#00ffff"/><path d="M1025.5 334L1032.2 346.2L1018.8 346.2Z" fill="#00ffff"/><path d="M1033.2 330.8L1039.9 343L1026.5 343Z" fill="#00ffff"/><path d="M1041 322.2L1047.7 334.4L1034.3 334.4Z" fill="#00ffff"/><path d="M1048.7 402.4L1055.4 414.6L1042 414.6Z" fill="#00ffff"/><path d="M1056.4 333L1063.1 345.2L1049.7 345.2Z" fill="#00ffff"/><path d="M1064.1 313L1070.8 325.2L1057.4 325.2Z" fill="#00ffff"/><path d="M1071.8 293L1078.5 305.2L1065.1 305.2Z" fill="#00ffff"/><path d="M1079.6 268L1086.3 280.2L1072.9 280.2Z" fill="#00ffff"/><path d="M1087.3 243L1094 255.2L1080.6 255.2Z" fill="#00ffff"/><path d="M1095 212.5L1101.7 224.7L1088.3 224.7Z" fill="#00ffff"/><path d="M1102.7 211.3L1109.4 223.5L1096 223.5Z" fill="#00ffff"/><path d="M1110.4 186.8L1117.1 199L1103.7 199Z" fill="#00ffff"/><path d="M1118.2 192.8L1124.9 205L1111.5 205Z" fill="#00ffff"/><path d="M1125.9 184.1L1132.6 196.3L1119.2 196.3Z" fill="#00ffff"/><path d="M1133.6 173.6L1140.3 185.8L1126.9 185.8Z" fill="#00ffff"/><path d="M1141.3 172.8L1148 185L1134.6 185Z" fill="#00ffff"/><path d="M1149 175.7L1155.7 187.9L1142.3 187.9Z" fill="#00ffff"/><path d="M1156.8 162.2L1163.5 174.4L1150.1 174.4Z" fill="#00ffff"/><path d="M1164.5 169.6L1171.2 181.8L1157.8 181.8Z" fill="#00ffff"/><path d="M1172.2 166.4L1178.9 178.6L1165.5 178.6Z" fill="#00ffff"/><path d="M1179.9 169.6L1186.6 181.8L1173.2 181.8Z" fill="#00ffff"/><path d="M1187.6 169.6L1194.3 181.8L1180.9 181.8Z" fill="#00ffff"/><path d="M1195.4 169.6L1202.1 181.8L1188.7 181.8Z" fill="#00ffff"/><path d="M1203.1 169.6L1209.8 181.8L1196.4 181.8Z" fill="#00ffff"/><path d="M1210.8 156.4L1217.5 168.6L1204.1 168.6Z" fill="#00ffff"/><path d="M1218.5 147.1L1225.2 159.3L1211.8 159.3Z" fill="#00ffff"/><path d="M1226.2 155.9L1232.9 168.1L1219.5 168.1Z" fill="#00ffff"/><path d="M1234 136.6L1240.7 148.8L1227.3 148.8Z" fill="#00ffff"/><path d="M1241.7 150.6L1248.4 162.8L1235 162.8Z" fill="#00ffff"/><path d="M1249.4 130L1256.1 142.2L1242.7 142.2Z" fill="#00ffff"/><path d="M1257.1 141.1L1263.8 153.3L1250.4 153.3Z" fill="#00ffff"/></g>
<polyline points="747.6,409.4 755.3,342 763,259.4 770.8,219 778.5,178.9 786.2,170.2 793.9,158.7 801.6,133.6 809.4,158.7 817.1,159.3 824.8,143.6 832.5,120.2 840.2,116.2 848,111 855.7,112.3 863.4,117.5 871.1,137 878.8,126.8 886.6,111.8 894.3,108 902,92.2 909.7,74.4 917.4,79.7 925.2,92 932.9,93.6 940.6,93.6 948.3,89.1 956,75.4 963.8,71.8 971.5,78.3 979.2,86.6 986.9,87.1 994.6,94.5 1002.4,96.3 1010.1,79.4 1017.8,72.6 1025.5,67.6 1033.2,66.5 1041,76 1048.7,72.6 1056.4,71.1 1064.1,74.8 1071.8,70.3 1079.6,67.3 1087.3,75 1095,73.3 1102.7,73.3 1110.4,74.8 1118.2,79.4 1125.9,67.3 1133.6,58.2 1141.3,60.5 1149,63.5 1156.8,53.7 1164.5,63.5 1172.2,58.2 1179.9,55.6 1187.6,53.7 1195.4,55.2 1203.1,59.7 1210.8,59 1218.5,64.3 1226.2,59 1234,61.3 1241.7,54.5 1249.4,56 1257.1,60.5" fill="none" stroke="#ff00ff" stroke-width="1.8" stroke-linejoin="round"/><g><circle cx="747.6" cy="409.4" r="5.3" fill="#ff00ff"/><circle cx="755.3" cy="342" r="5.3" fill="#ff00ff"/><circle cx="763" cy="259.4" r="5.3" fill="#ff00ff"/><circle cx="770.8" cy="219" r="5.3" fill="#ff00ff"/><circle cx="778.5" cy="178.9" r="5.3" fill="#ff00ff"/><circle cx="786.2" cy="170.2" r="5.3" fill="#ff00ff"/><circle cx="793.9" cy="158.7" r="5.3" fill="#ff00ff"/><circle cx="801.6" cy="133.6" r="5.3" fill="#ff00ff"/><circle cx="809.4" cy="158.7" r="5.3" fill="#ff00ff"/><circle cx="817.1" cy="159.3" r="5.3" fill="#ff00ff"/><circle cx="824.8" cy="143.6" r="5.3" fill="#ff00ff"/><circle cx="832.5" cy="120.2" r="5.3" fill="#ff00ff"/><circle cx="840.2" cy="116.2" r="5.3" fill="#ff00ff"/><circle cx="848" cy="111" r="5.3" fill="#ff00ff"/><circle cx="855.7" cy="112.3" r="5.3" fill="#ff00ff"/><circle cx="863.4" cy="117.5" r="5.3" fill="#ff00ff"/><circle cx="871.1" cy="137" r="5.3" fill="#ff00ff"/><circle cx="878.8" cy="126.8" r="5.3" fill="#ff00ff"/><circle cx="886.6" cy="111.8" r="5.3" fill="#ff00ff"/><circle cx="894.3" cy="108" r="5.3" fill="#ff00ff"/><circle cx="902" cy="92.2" r="5.3" fill="#ff00ff"/><circle cx="909.7" cy="74.4" r="5.3" fill="#ff00ff"/><circle cx="917.4" cy="79.7" r="5.3" fill="#ff00ff"/><circle cx="925.2" cy="92" r="5.3" fill="#ff00ff"/><circle cx="932.9" cy="93.6" r="5.3" fill="#ff00ff"/><circle cx="940.6" cy="93.6" r="5.3" fill="#ff00ff"/><circle cx="948.3" cy="89.1" r="5.3" fill="#ff00ff"/><circle cx="956" cy="75.4" r="5.3" fill="#ff00ff"/><circle cx="963.8" cy="71.8" r="5.3" fill="#ff00ff"/><circle cx="971.5" cy="78.3" r="5.3" fill="#ff00ff"/><circle cx="979.2" cy="86.6" r="5.3" fill="#ff00ff"/><circle cx="986.9" cy="87.1" r="5.3" fill="#ff00ff"/><circle cx="994.6" cy="94.5" r="5.3" fill="#ff00ff"/><circle cx="1002.4" cy="96.3" r="5.3" fill="#ff00ff"/><circle cx="1010.1" cy="79.4" r="5.3" fill="#ff00ff"/><circle cx="1017.8" cy="72.6" r="5.3" fill="#ff00ff"/><circle cx="1025.5" cy="67.6" r="5.3" fill="#ff00ff"/><circle cx="1033.2" cy="66.5" r="5.3" fill="#ff00ff"/><circle cx="1041" cy="76" r="5.3" fill="#ff00ff"/><circle cx="1048.7" cy="72.6" r="5.3" fill="#ff00ff"/><circle cx="1056.4" cy="71.1" r="5.3" fill="#ff00ff"/><circle cx="1064.1" cy="74.8" r="5.3" fill="#ff00ff"/><circle cx="1071.8" cy="70.3" r="5.3" fill="#ff00ff"/><circle cx="1079.6" cy="67.3" r="5.3" fill="#ff00ff"/><circle cx="1087.3" cy="75" r="5.3" fill="#ff00ff"/><circle cx="1095" cy="73.3" r="5.3" fill="#ff00ff"/><circle cx="1102.7" cy="73.3" r="5.3" fill="#ff00ff"/><circle cx="1110.4" cy="74.8" r="5.3" fill="#ff00ff"/><circle cx="1118.2" cy="79.4" r="5.3" fill="#ff00ff"/><circle cx="1125.9" cy="67.3" r="5.3" fill="#ff00ff"/><circle cx="1133.6" cy="58.2" r="5.3" fill="#ff00ff"/><circle cx="1141.3" cy="60.5" r="5.3" fill="#ff00ff"/><circle cx="1149" cy="63.5" r="5.3" fill="#ff00ff"/><circle cx="1156.8" cy="53.7" r="5.3" fill="#ff00ff"/><circle cx="1164.5" cy="63.5" r="5.3" fill="#ff00ff"/><circle cx="1172.2" cy="58.2" r="5.3" fill="#ff00ff"/><circle cx="1179.9" cy="55.6" r="5.3" fill="#ff00ff"/><circle cx="1187.6" cy="53.7" r="5.3" fill="#ff00ff"/><circle cx="1195.4" cy="55.2" r="5.3" fill="#ff00ff"/><circle cx="1203.1" cy="59.7" r="5.3" fill="#ff00ff"/><circle cx="1210.8" cy="59" r="5.3" fill="#ff00ff"/><circle cx="1218.5" cy="64.3" r="5.3" fill="#ff00ff"/><circle cx="1226.2" cy="59" r="5.3" fill="#ff00ff"/><circle cx="1234" cy="61.3" r="5.3" fill="#ff00ff"/><circle cx="1241.7" cy="54.5" r="5.3" fill="#ff00ff"/><circle cx="1249.4" cy="56" r="5.3" fill="#ff00ff"/><circle cx="1257.1" cy="60.5" r="5.3" fill="#ff00ff"/></g>
<polyline points="747.6,50.2 755.3,47 763,44.4 770.8,51.5 778.5,51.5 786.2,41.7 793.9,47.5 801.6,41.7 809.4,46.2 817.1,44.4 824.8,48 832.5,44.4 840.2,50.2 848,47 855.7,47.5 863.4,50.2 871.1,48.3 878.8,45.4 886.6,43 894.3,47.5 902,54.1 909.7,47.5 917.4,48.3 925.2,45.4 932.9,42.8 940.6,52.3 948.3,42.8 956,41 963.8,48.9 971.5,49.7 979.2,43.6 986.9,44.9 994.6,40.1 1002.4,45 1010.1,43.9 1017.8,45.4 1025.5,43.9 1033.2,53 1041,38.6 1048.7,47.7 1056.4,51.9 1064.1,47.4 1071.8,50.4 1079.6,42.4 1087.3,56.4 1095,47.7 1102.7,34.8 1110.4,46.9 1118.2,42.4 1125.9,49.2 1133.6,46.9 1141.3,39.4 1149,49.2 1156.8,46.1 1164.5,47.7 1172.2,41.6 1179.9,42.4 1187.6,37.8 1195.4,49.2 1203.1,51.4 1210.8,44.6 1218.5,49.2 1226.2,49.9 1234,54.5 1241.7,47.7 1249.4,53.7 1257.1,44.3" fill="none" stroke="#ffff00" stroke-width="1.8" stroke-linejoin="round" stroke-dasharray="9 5"/><g><path d="M747.6 43.2L754.3 55.4L740.9 55.4Z" fill="#ffff00"/><path d="M755.3 40L762 52.2L748.6 52.2Z" fill="#ffff00"/><path d="M763 37.4L769.7 49.6L756.3 49.6Z" fill="#ffff00"/><path d="M770.8 44.5L777.5 56.7L764.1 56.7Z" fill="#ffff00"/><path d="M778.5 44.5L785.2 56.7L771.8 56.7Z" fill="#ffff00"/><path d="M786.2 34.7L792.9 46.9L779.5 46.9Z" fill="#ffff00"/><path d="M793.9 40.5L800.6 52.7L787.2 52.7Z" fill="#ffff00"/><path d="M801.6 34.7L808.3 46.9L794.9 46.9Z" fill="#ffff00"/><path d="M809.4 39.2L816.1 51.4L802.7 51.4Z" fill="#ffff00"/><path d="M817.1 37.4L823.8 49.6L810.4 49.6Z" fill="#ffff00"/><path d="M824.8 41L831.5 53.2L818.1 53.2Z" fill="#ffff00"/><path d="M832.5 37.4L839.2 49.6L825.8 49.6Z" fill="#ffff00"/><path d="M840.2 43.2L846.9 55.4L833.5 55.4Z" fill="#ffff00"/><path d="M848 40L854.7 52.2L841.3 52.2Z" fill="#ffff00"/><path d="M855.7 40.5L862.4 52.7L849 52.7Z" fill="#ffff00"/><path d="M863.4 43.2L870.1 55.4L856.7 55.4Z" fill="#ffff00"/><path d="M871.1 41.3L877.8 53.5L864.4 53.5Z" fill="#ffff00"/><path d="M878.8 38.4L885.5 50.6L872.1 50.6Z" fill="#ffff00"/><path d="M886.6 36L893.3 48.2L879.9 48.2Z" fill="#ffff00"/><path d="M894.3 40.5L901 52.7L887.6 52.7Z" fill="#ffff00"/><path d="M902 47.1L908.7 59.3L895.3 59.3Z" fill="#ffff00"/><path d="M909.7 40.5L916.4 52.7L903 52.7Z" fill="#ffff00"/><path d="M917.4 41.3L924.1 53.5L910.7 53.5Z" fill="#ffff00"/><path d="M925.2 38.4L931.9 50.6L918.5 50.6Z" fill="#ffff00"/><path d="M932.9 35.8L939.6 48L926.2 48Z" fill="#ffff00"/><path d="M940.6 45.3L947.3 57.5L933.9 57.5Z" fill="#ffff00"/><path d="M948.3 35.8L955 48L941.6 48Z" fill="#ffff00"/><path d="M956 34L962.7 46.2L949.3 46.2Z" fill="#ffff00"/><path d="M963.8 41.9L970.5 54.1L957.1 54.1Z" fill="#ffff00"/><path d="M971.5 42.7L978.2 54.9L964.8 54.9Z" fill="#ffff00"/><path d="M979.2 36.6L985.9 48.8L972.5 48.8Z" fill="#ffff00"/><path d="M986.9 37.9L993.6 50.1L980.2 50.1Z" fill="#ffff00"/><path d="M994.6 33.1L1001.3 45.3L987.9 45.3Z" fill="#ffff00"/><path d="M1002.4 38L1009.1 50.2L995.7 50.2Z" fill="#ffff00"/><path d="M1010.1 36.9L1016.8 49.1L1003.4 49.1Z" fill="#ffff00"/><path d="M1017.8 38.4L1024.5 50.6L1011.1 50.6Z" fill="#ffff00"/><path d="M1025.5 36.9L1032.2 49.1L1018.8 49.1Z" fill="#ffff00"/><path d="M1033.2 46L1039.9 58.2L1026.5 58.2Z" fill="#ffff00"/><path d="M1041 31.6L1047.7 43.8L1034.3 43.8Z" fill="#ffff00"/><path d="M1048.7 40.7L1055.4 52.9L1042 52.9Z" fill="#ffff00"/><path d="M1056.4 44.9L1063.1 57.1L1049.7 57.1Z" fill="#ffff00"/><path d="M1064.1 40.4L1070.8 52.6L1057.4 52.6Z" fill="#ffff00"/><path d="M1071.8 43.4L1078.5 55.6L1065.1 55.6Z" fill="#ffff00"/><path d="M1079.6 35.4L1086.3 47.6L1072.9 47.6Z" fill="#ffff00"/><path d="M1087.3 49.4L1094 61.6L1080.6 61.6Z" fill="#ffff00"/><path d="M1095 40.7L1101.7 52.9L1088.3 52.9Z" fill="#ffff00"/><path d="M1102.7 27.8L1109.4 40L1096 40Z" fill="#ffff00"/><path d="M1110.4 39.9L1117.1 52.1L1103.7 52.1Z" fill="#ffff00"/><path d="M1118.2 35.4L1124.9 47.6L1111.5 47.6Z" fill="#ffff00"/><path d="M1125.9 42.2L1132.6 54.4L1119.2 54.4Z" fill="#ffff00"/><path d="M1133.6 39.9L1140.3 52.1L1126.9 52.1Z" fill="#ffff00"/><path d="M1141.3 32.4L1148 44.6L1134.6 44.6Z" fill="#ffff00"/><path d="M1149 42.2L1155.7 54.4L1142.3 54.4Z" fill="#ffff00"/><path d="M1156.8 39.1L1163.5 51.3L1150.1 51.3Z" fill="#ffff00"/><path d="M1164.5 40.7L1171.2 52.9L1157.8 52.9Z" fill="#ffff00"/><path d="M1172.2 34.6L1178.9 46.8L1165.5 46.8Z" fill="#ffff00"/><path d="M1179.9 35.4L1186.6 47.6L1173.2 47.6Z" fill="#ffff00"/><path d="M1187.6 30.8L1194.3 43L1180.9 43Z" fill="#ffff00"/><path d="M1195.4 42.2L1202.1 54.4L1188.7 54.4Z" fill="#ffff00"/><path d="M1203.1 44.4L1209.8 56.6L1196.4 56.6Z" fill="#ffff00"/><path d="M1210.8 37.6L1217.5 49.8L1204.1 49.8Z" fill="#ffff00"/><path d="M1218.5 42.2L1225.2 54.4L1211.8 54.4Z" fill="#ffff00"/><path d="M1226.2 42.9L1232.9 55.1L1219.5 55.1Z" fill="#ffff00"/><path d="M1234 47.5L1240.7 59.7L1227.3 59.7Z" fill="#ffff00"/><path d="M1241.7 40.7L1248.4 52.9L1235 52.9Z" fill="#ffff00"/><path d="M1249.4 46.7L1256.1 58.9L1242.7 58.9Z" fill="#ffff00"/><path d="M1257.1 37.3L1263.8 49.5L1250.4 49.5Z" fill="#ffff00"/></g>
<text x="748.2" y="436.6" text-anchor="middle">0</text>
<text x="811.9" y="436.6" text-anchor="middle">0.5</text>
<text x="876.1" y="436.6" text-anchor="middle">1</text>
<text x="940" y="436.6" text-anchor="middle">1.5</text>
<text x="1005.3" y="436.6" text-anchor="middle">2</text>
<text x="1068.9" y="436.6" text-anchor="middle">2.5</text>
<text x="1134" y="436.6" text-anchor="middle">3</text>
<text x="1198" y="436.6" text-anchor="middle">3.5</text>
<text x="1262.1" y="436.6" text-anchor="middle">4</text>
<text x="740.7" y="14.1" text-anchor="end">2</text>
<text x="740.7" y="115" text-anchor="end">1.5</text>
<text x="740.7" y="215.9" text-anchor="end">1</text>
<text x="740.7" y="316.8" text-anchor="end">0.5</text>
<text x="740.7" y="417.7" text-anchor="end">0</text>
<text transform="translate(704.9 208.2) rotate(-90)" text-anchor="middle">SE</text>
<text x="1005.6" y="462.9" text-anchor="middle">control parameter</text>
<rect x="1053.8" y="232.2" width="157.2" height="154.4" fill="#fff" stroke="#262626" stroke-width="1.6"/>
<line x1="1059.3" y1="246.2" x2="1106.1" y2="246.2" stroke="#0000ff" stroke-width="2.0"/><path d="M1082 238.4L1087.5 246.2L1082 254L1076.5 246.2Z" fill="#0000ff"/>
<text x="1109.4" y="253.2">Proposed</text>
<line x1="1059.3" y1="271.7" x2="1106.1" y2="271.7" stroke="#ff0000" stroke-width="1.8" stroke-dasharray="9 5"/><path d="M1077.4 271.7H1086.6M1082 267.1V276.3M1078.7 268.3L1085.3 275M1078.7 275L1085.3 268.3" stroke="#ff0000" stroke-width="1.6" fill="none"/>
<text x="1109.4" y="278.7">2D-CSM</text>
<line x1="1059.3" y1="297.1" x2="1106.1" y2="297.1" stroke="#00ff00" stroke-width="2.0"/><rect x="1077.5" y="292.6" width="9" height="9" fill="#00ff00"/>
<text x="1109.4" y="304.1">2D-CSIM</text>
<line x1="1059.3" y1="322.6" x2="1106.1" y2="322.6" stroke="#00ffff" stroke-width="1.8" stroke-dasharray="9 5"/><path d="M1082 315.6L1088.7 327.8L1075.3 327.8Z" fill="#00ffff"/>
<text x="1109.4" y="329.6">2D-TFCDM</text>
<line x1="1059.3" y1="348" x2="1106.1" y2="348" stroke="#ff00ff" stroke-width="2.0"/><circle cx="1082" cy="348" r="5.3" fill="#ff00ff"/>
<text x="1109.4" y="355">2D-ILM</text>
<line x1="1059.3" y1="373.5" x2="1106.1" y2="373.5" stroke="#ffff00" stroke-width="1.8" stroke-dasharray="9 5"/><path d="M1082 366.5L1088.7 378.7L1075.3 378.7Z" fill="#ffff00"/>
<text x="1109.4" y="380.5">2D-CTM</text>
<path d="M1494.1 7.4V409.1M1558 7.4V409.1M1622.7 7.4V409.1M1686.7 7.4V409.1M1751.6 7.4V409.1M1815.8 7.4V409.1M1880.6 7.4V409.1M1429.9 107.8H1944.3M1429.9 208.3H1944.3M1429.9 308.7H1944.3" stroke="rgba(38,38,38,0.22)" stroke-width="1.2" fill="none"/>
<path d="M1494.1 409.1v-5.5M1494.1 7.4v5.5M1558 409.1v-5.5M1558 7.4v5.5M1622.7 409.1v-5.5M1622.7 7.4v5.5M1686.7 409.1v-5.5M1686.7 7.4v5.5M1751.6 409.1v-5.5M1751.6 7.4v5.5M1815.8 409.1v-5.5M1815.8 7.4v5.5M1880.6 409.1v-5.5M1880.6 7.4v5.5M1429.9 107.8h5.5M1944.3 107.8h-5.5M1429.9 208.3h5.5M1944.3 208.3h-5.5M1429.9 308.7h5.5M1944.3 308.7h-5.5" stroke="#262626" stroke-width="1.6" fill="none"/>
<path d="M1944.3 7.4V409.1" stroke="#4a4a4a" stroke-width="1.4" fill="none"/>
<path d="M1944.3 7.4H1429.9V409.1H1944.3" stroke="#262626" stroke-width="1.7" fill="none"/>
<polyline points="1429.8,409.4 1437.5,409.4 1445.3,342.3 1453,269.8 1460.7,216.4 1468.5,224.9 1476.2,96.9 1483.9,85 1491.6,78.7 1499.4,84 1507.1,87.7 1514.8,87.2 1522.6,93.8 1530.3,82.4 1538,62.9 1545.8,88.5 1553.5,56.9 1561.2,70 1568.9,79.6 1576.7,60.9 1584.4,72 1592.1,63.7 1599.9,59.5 1607.6,55.3 1615.3,91 1623,109 1630.8,64.8 1638.5,77.8 1646.2,89.5 1654,92.5 1661.7,62.3 1669.4,67.8 1677.2,54.9 1684.9,54 1692.6,72.8 1700.3,37.2 1708.1,59.6 1715.8,63.6 1723.5,50.4 1731.3,46.4 1739,58.3 1746.7,68.9 1754.5,63.6 1762.2,59.6 1769.9,62.3 1777.7,57 1785.4,72.3 1793.1,53 1800.8,58.3 1808.6,57 1816.3,51.7 1824,59.6 1831.8,51.7 1839.5,51.2 1847.2,51.2 1855,49 1862.7,68.1 1870.4,46.4 1878.1,58.3 1885.9,62.3 1893.6,62.3 1901.3,61 1909.1,54.3 1916.8,57 1924.5,79.4 1932.2,54.3 1940,46.4" fill="none" stroke="#0000ff" stroke-width="1.8" stroke-linejoin="round"/><g><path d="M1429.8 401.6L1435.3 409.4L1429.8 417.2L1424.3 409.4Z" fill="#0000ff"/><path d="M1437.5 401.6L1443 409.4L1437.5 417.2L1432 409.4Z" fill="#0000ff"/><path d="M1445.3 334.5L1450.8 342.3L1445.3 350.1L1439.8 342.3Z" fill="#0000ff"/><path d="M1453 262L1458.5 269.8L1453 277.6L1447.5 269.8Z" fill="#0000ff"/><path d="M1460.7 208.6L1466.2 216.4L1460.7 224.2L1455.2 216.4Z" fill="#0000ff"/><path d="M1468.5 217.1L1474 224.9L1468.5 232.7L1463 224.9Z" fill="#0000ff"/><path d="M1476.2 89.1L1481.7 96.9L1476.2 104.7L1470.7 96.9Z" fill="#0000ff"/><path d="M1483.9 77.2L1489.4 85L1483.9 92.8L1478.4 85Z" fill="#0000ff"/><path d="M1491.6 70.9L1497.1 78.7L1491.6 86.5L1486.1 78.7Z" fill="#0000ff"/><path d="M1499.4 76.2L1504.9 84L1499.4 91.8L1493.9 84Z" fill="#0000ff"/><path d="M1507.1 79.9L1512.6 87.7L1507.1 95.5L1501.6 87.7Z" fill="#0000ff"/><path d="M1514.8 79.4L1520.3 87.2L1514.8 95L1509.3 87.2Z" fill="#0000ff"/><path d="M1522.6 86L1528.1 93.8L1522.6 101.6L1517.1 93.8Z" fill="#0000ff"/><path d="M1530.3 74.6L1535.8 82.4L1530.3 90.2L1524.8 82.4Z" fill="#0000ff"/><path d="M1538 55.1L1543.5 62.9L1538 70.7L1532.5 62.9Z" fill="#0000ff"/><path d="M1545.8 80.7L1551.2 88.5L1545.8 96.3L1540.2 88.5Z" fill="#0000ff"/><path d="M1553.5 49.1L1559 56.9L1553.5 64.7L1548 56.9Z" fill="#0000ff"/><path d="M1561.2 62.2L1566.7 70L1561.2 77.8L1555.7 70Z" fill="#0000ff"/><path d="M1568.9 71.8L1574.4 79.6L1568.9 87.4L1563.4 79.6Z" fill="#0000ff"/><path d="M1576.7 53.1L1582.2 60.9L1576.7 68.7L1571.2 60.9Z" fill="#0000ff"/><path d="M1584.4 64.2L1589.9 72L1584.4 79.8L1578.9 72Z" fill="#0000ff"/><path d="M1592.1 55.9L1597.6 63.7L1592.1 71.5L1586.6 63.7Z" fill="#0000ff"/><path d="M1599.9 51.7L1605.4 59.5L1599.9 67.3L1594.4 59.5Z" fill="#0000ff"/><path d="M1607.6 47.5L1613.1 55.3L1607.6 63.1L1602.1 55.3Z" fill="#0000ff"/><path d="M1615.3 83.2L1620.8 91L1615.3 98.8L1609.8 91Z" fill="#0000ff"/><path d="M1623 101.2L1628.5 109L1623 116.8L1617.5 109Z" fill="#0000ff"/><path d="M1630.8 57L1636.3 64.8L1630.8 72.6L1625.3 64.8Z" fill="#0000ff"/><path d="M1638.5 70L1644 77.8L1638.5 85.6L1633 77.8Z" fill="#0000ff"/><path d="M1646.2 81.7L1651.7 89.5L1646.2 97.3L1640.7 89.5Z" fill="#0000ff"/><path d="M1654 84.7L1659.5 92.5L1654 100.3L1648.5 92.5Z" fill="#0000ff"/><path d="M1661.7 54.5L1667.2 62.3L1661.7 70.1L1656.2 62.3Z" fill="#0000ff"/><path d="M1669.4 60L1674.9 67.8L1669.4 75.6L1663.9 67.8Z" fill="#0000ff"/><path d="M1677.2 47.1L1682.7 54.9L1677.2 62.7L1671.7 54.9Z" fill="#0000ff"/><path d="M1684.9 46.2L1690.4 54L1684.9 61.8L1679.4 54Z" fill="#0000ff"/><path d="M1692.6 65L1698.1 72.8L1692.6 80.6L1687.1 72.8Z" fill="#0000ff"/><path d="M1700.3 29.4L1705.8 37.2L1700.3 45L1694.8 37.2Z" fill="#0000ff"/><path d="M1708.1 51.8L1713.6 59.6L1708.1 67.4L1702.6 59.6Z" fill="#0000ff"/><path d="M1715.8 55.8L1721.3 63.6L1715.8 71.4L1710.3 63.6Z" fill="#0000ff"/><path d="M1723.5 42.6L1729 50.4L1723.5 58.2L1718 50.4Z" fill="#0000ff"/><path d="M1731.3 38.6L1736.8 46.4L1731.3 54.2L1725.8 46.4Z" fill="#0000ff"/><path d="M1739 50.5L1744.5 58.3L1739 66.1L1733.5 58.3Z" fill="#0000ff"/><path d="M1746.7 61.1L1752.2 68.9L1746.7 76.7L1741.2 68.9Z" fill="#0000ff"/><path d="M1754.5 55.8L1760 63.6L1754.5 71.4L1749 63.6Z" fill="#0000ff"/><path d="M1762.2 51.8L1767.7 59.6L1762.2 67.4L1756.7 59.6Z" fill="#0000ff"/><path d="M1769.9 54.5L1775.4 62.3L1769.9 70.1L1764.4 62.3Z" fill="#0000ff"/><path d="M1777.7 49.2L1783.2 57L1777.7 64.8L1772.2 57Z" fill="#0000ff"/><path d="M1785.4 64.5L1790.9 72.3L1785.4 80.1L1779.9 72.3Z" fill="#0000ff"/><path d="M1793.1 45.2L1798.6 53L1793.1 60.8L1787.6 53Z" fill="#0000ff"/><path d="M1800.8 50.5L1806.3 58.3L1800.8 66.1L1795.3 58.3Z" fill="#0000ff"/><path d="M1808.6 49.2L1814.1 57L1808.6 64.8L1803.1 57Z" fill="#0000ff"/><path d="M1816.3 43.9L1821.8 51.7L1816.3 59.5L1810.8 51.7Z" fill="#0000ff"/><path d="M1824 51.8L1829.5 59.6L1824 67.4L1818.5 59.6Z" fill="#0000ff"/><path d="M1831.8 43.9L1837.3 51.7L1831.8 59.5L1826.3 51.7Z" fill="#0000ff"/><path d="M1839.5 43.4L1845 51.2L1839.5 59L1834 51.2Z" fill="#0000ff"/><path d="M1847.2 43.4L1852.7 51.2L1847.2 59L1841.7 51.2Z" fill="#0000ff"/><path d="M1855 41.2L1860.5 49L1855 56.8L1849.5 49Z" fill="#0000ff"/><path d="M1862.7 60.3L1868.2 68.1L1862.7 75.9L1857.2 68.1Z" fill="#0000ff"/><path d="M1870.4 38.6L1875.9 46.4L1870.4 54.2L1864.9 46.4Z" fill="#0000ff"/><path d="M1878.1 50.5L1883.6 58.3L1878.1 66.1L1872.6 58.3Z" fill="#0000ff"/><path d="M1885.9 54.5L1891.4 62.3L1885.9 70.1L1880.4 62.3Z" fill="#0000ff"/><path d="M1893.6 54.5L1899.1 62.3L1893.6 70.1L1888.1 62.3Z" fill="#0000ff"/><path d="M1901.3 53.2L1906.8 61L1901.3 68.8L1895.8 61Z" fill="#0000ff"/><path d="M1909.1 46.5L1914.6 54.3L1909.1 62.1L1903.6 54.3Z" fill="#0000ff"/><path d="M1916.8 49.2L1922.3 57L1916.8 64.8L1911.3 57Z" fill="#0000ff"/><path d="M1924.5 71.6L1930 79.4L1924.5 87.2L1919 79.4Z" fill="#0000ff"/><path d="M1932.2 46.5L1937.8 54.3L1932.2 62.1L1926.8 54.3Z" fill="#0000ff"/><path d="M1940 38.6L1945.5 46.4L1940 54.2L1934.5 46.4Z" fill="#0000ff"/></g>
<polyline points="1429.8,409.4 1437.5,409.4 1445.3,409.4 1453,409.4 1460.7,115.4 1468.5,189.8 1476.2,219.5 1483.9,187.2 1491.6,189 1499.4,223.6 1507.1,207.7 1514.8,213.7 1522.6,196.4 1530.3,183.8 1538,170.6 1545.8,152.9 1553.5,186.4 1561.2,159.3 1568.9,138.9 1576.7,150 1584.4,143.6 1592.1,118 1599.9,105.8 1607.6,101.2 1615.3,105.8 1623,116.7 1630.8,103.8 1638.5,110.3 1646.2,95.2 1654,92.8 1661.7,83.3 1669.4,76 1677.2,81 1684.9,81 1692.6,82.9 1700.3,72.8 1708.1,92.6 1715.8,85.5 1723.5,71.5 1731.3,76.8 1739,88.1 1746.7,67 1754.5,77.6 1762.2,70.2 1769.9,68.9 1777.7,63.6 1785.4,63.6 1793.1,66.2 1800.8,67 1808.6,58.3 1816.3,65.2 1824,58.3 1831.8,61 1839.5,60.1 1847.2,65.4 1855,65.4 1862.7,59.1 1870.4,53 1878.1,65.4 1885.9,57 1893.6,53 1901.3,59.1 1909.1,63.6 1916.8,60.1 1924.5,53 1932.2,63.6 1940,70.2" fill="none" stroke="#ff0000" stroke-width="1.8" stroke-linejoin="round" stroke-dasharray="9 5"/><g><path d="M1425.2 409.4H1434.4M1429.8 404.8V414M1426.5 406.1L1433.1 412.7M1426.5 412.7L1433.1 406.1" stroke="#ff0000" stroke-width="1.6" fill="none"/><path d="M1432.9 409.4H1442.1M1437.5 404.8V414M1434.2 406.1L1440.8 412.7M1434.2 412.7L1440.8 406.1" stroke="#ff0000" stroke-width="1.6" fill="none"/><path d="M1440.7 409.4H1449.9M1445.3 404.8V414M1441.9 406.1L1448.6 412.7M1441.9 412.7L1448.6 406.1" stroke="#ff0000" stroke-width="1.6" fill="none"/><path d="M1448.4 409.4H1457.6M1453 404.8V414M1449.7 406.1L1456.3 412.7M1449.7 412.7L1456.3 406.1" stroke="#ff0000" stroke-width="1.6" fill="none"/><path d="M1456.1 115.4H1465.3M1460.7 110.8V120M1457.4 112.1L1464 118.7M1457.4 118.7L1464 112.1" stroke="#ff0000" stroke-width="1.6" fill="none"/><path d="M1463.9 189.8H1473M1468.5 185.2V194.4M1465.1 186.5L1471.8 193.1M1465.1 193.1L1471.8 186.5" stroke="#ff0000" stroke-width="1.6" fill="none"/><path d="M1471.6 219.5H1480.8M1476.2 214.9V224.1M1472.9 216.2L1479.5 222.8M1472.9 222.8L1479.5 216.2" stroke="#ff0000" stroke-width="1.6" fill="none"/><path d="M1479.3 187.2H1488.5M1483.9 182.6V191.8M1480.6 183.9L1487.2 190.5M1480.6 190.5L1487.2 183.9" stroke="#ff0000" stroke-width="1.6" fill="none"/><path d="M1487 189H1496.2M1491.6 184.4V193.6M1488.3 185.7L1495 192.3M1488.3 192.3L1495 185.7" stroke="#ff0000" stroke-width="1.6" fill="none"/><path d="M1494.8 223.6H1504M1499.4 219V228.2M1496.1 220.3L1502.7 226.9M1496.1 226.9L1502.7 220.3" stroke="#ff0000" stroke-width="1.6" fill="none"/><path d="M1502.5 207.7H1511.7M1507.1 203.1V212.3M1503.8 204.4L1510.4 211M1503.8 211L1510.4 204.4" stroke="#ff0000" stroke-width="1.6" fill="none"/><path d="M1510.2 213.7H1519.4M1514.8 209.1V218.3M1511.5 210.4L1518.1 217M1511.5 217L1518.1 210.4" stroke="#ff0000" stroke-width="1.6" fill="none"/><path d="M1518 196.4H1527.2M1522.6 191.8V201M1519.2 193.1L1525.9 199.7M1519.2 199.7L1525.9 193.1" stroke="#ff0000" stroke-width="1.6" fill="none"/><path d="M1525.7 183.8H1534.9M1530.3 179.2V188.4M1527 180.5L1533.6 187.1M1527 187.1L1533.6 180.5" stroke="#ff0000" stroke-width="1.6" fill="none"/><path d="M1533.4 170.6H1542.6M1538 166V175.2M1534.7 167.3L1541.3 173.9M1534.7 173.9L1541.3 167.3" stroke="#ff0000" stroke-width="1.6" fill="none"/><path d="M1541.2 152.9H1550.3M1545.8 148.3V157.5M1542.4 149.6L1549.1 156.2M1542.4 156.2L1549.1 149.6" stroke="#ff0000" stroke-width="1.6" fill="none"/><path d="M1548.9 186.4H1558.1M1553.5 181.8V191M1550.2 183.1L1556.8 189.7M1550.2 189.7L1556.8 183.1" stroke="#ff0000" stroke-width="1.6" fill="none"/><path d="M1556.6 159.3H1565.8M1561.2 154.7V163.9M1557.9 156L1564.5 162.6M1557.9 162.6L1564.5 156" stroke="#ff0000" stroke-width="1.6" fill="none"/><path d="M1564.3 138.9H1573.5M1568.9 134.3V143.5M1565.6 135.6L1572.3 142.2M1565.6 142.2L1572.3 135.6" stroke="#ff0000" stroke-width="1.6" fill="none"/><path d="M1572.1 150H1581.3M1576.7 145.4V154.6M1573.4 146.7L1580 153.3M1573.4 153.3L1580 146.7" stroke="#ff0000" stroke-width="1.6" fill="none"/><path d="M1579.8 143.6H1589M1584.4 139V148.2M1581.1 140.3L1587.7 146.9M1581.1 146.9L1587.7 140.3" stroke="#ff0000" stroke-width="1.6" fill="none"/><path d="M1587.5 118H1596.7M1592.1 113.4V122.6M1588.8 114.7L1595.4 121.3M1588.8 121.3L1595.4 114.7" stroke="#ff0000" stroke-width="1.6" fill="none"/><path d="M1595.3 105.8H1604.5M1599.9 101.2V110.4M1596.5 102.5L1603.2 109.1M1596.5 109.1L1603.2 102.5" stroke="#ff0000" stroke-width="1.6" fill="none"/><path d="M1603 101.2H1612.2M1607.6 96.6V105.8M1604.3 97.9L1610.9 104.5M1604.3 104.5L1610.9 97.9" stroke="#ff0000" stroke-width="1.6" fill="none"/><path d="M1610.7 105.8H1619.9M1615.3 101.2V110.4M1612 102.5L1618.6 109.1M1612 109.1L1618.6 102.5" stroke="#ff0000" stroke-width="1.6" fill="none"/><path d="M1618.5 116.7H1627.6M1623 112.1V121.3M1619.7 113.4L1626.4 120M1619.7 120L1626.4 113.4" stroke="#ff0000" stroke-width="1.6" fill="none"/><path d="M1626.2 103.8H1635.4M1630.8 99.2V108.4M1627.5 100.5L1634.1 107.1M1627.5 107.1L1634.1 100.5" stroke="#ff0000" stroke-width="1.6" fill="none"/><path d="M1633.9 110.3H1643.1M1638.5 105.7V114.9M1635.2 107L1641.8 113.6M1635.2 113.6L1641.8 107" stroke="#ff0000" stroke-width="1.6" fill="none"/><path d="M1641.6 95.2H1650.8M1646.2 90.6V99.8M1642.9 91.9L1649.6 98.5M1642.9 98.5L1649.6 91.9" stroke="#ff0000" stroke-width="1.6" fill="none"/><path d="M1649.4 92.8H1658.6M1654 88.2V97.4M1650.7 89.5L1657.3 96.1M1650.7 96.1L1657.3 89.5" stroke="#ff0000" stroke-width="1.6" fill="none"/><path d="M1657.1 83.3H1666.3M1661.7 78.7V87.9M1658.4 80L1665 86.6M1658.4 86.6L1665 80" stroke="#ff0000" stroke-width="1.6" fill="none"/><path d="M1664.8 76H1674M1669.4 71.4V80.6M1666.1 72.7L1672.7 79.3M1666.1 79.3L1672.7 72.7" stroke="#ff0000" stroke-width="1.6" fill="none"/><path d="M1672.6 81H1681.8M1677.2 76.4V85.6M1673.8 77.7L1680.5 84.3M1673.8 84.3L1680.5 77.7" stroke="#ff0000" stroke-width="1.6" fill="none"/><path d="M1680.3 81H1689.5M1684.9 76.4V85.6M1681.6 77.7L1688.2 84.3M1681.6 84.3L1688.2 77.7" stroke="#ff0000" stroke-width="1.6" fill="none"/><path d="M1688 82.9H1697.2M1692.6 78.3V87.5M1689.3 79.6L1695.9 86.2M1689.3 86.2L1695.9 79.6" stroke="#ff0000" stroke-width="1.6" fill="none"/><path d="M1695.8 72.8H1704.9M1700.3 68.2V77.4M1697 69.5L1703.7 76.1M1697 76.1L1703.7 69.5" stroke="#ff0000" stroke-width="1.6" fill="none"/><path d="M1703.5 92.6H1712.7M1708.1 88V97.2M1704.8 89.3L1711.4 95.9M1704.8 95.9L1711.4 89.3" stroke="#ff0000" stroke-width="1.6" fill="none"/><path d="M1711.2 85.5H1720.4M1715.8 80.9V90.1M1712.5 82.2L1719.1 88.8M1712.5 88.8L1719.1 82.2" stroke="#ff0000" stroke-width="1.6" fill="none"/><path d="M1718.9 71.5H1728.1M1723.5 66.9V76.1M1720.2 68.2L1726.9 74.8M1720.2 74.8L1726.9 68.2" stroke="#ff0000" stroke-width="1.6" fill="none"/><path d="M1726.7 76.8H1735.9M1731.3 72.2V81.4M1728 73.5L1734.6 80.1M1728 80.1L1734.6 73.5" stroke="#ff0000" stroke-width="1.6" fill="none"/><path d="M1734.4 88.1H1743.6M1739 83.5V92.7M1735.7 84.8L1742.3 91.4M1735.7 91.4L1742.3 84.8" stroke="#ff0000" stroke-width="1.6" fill="none"/><path d="M1742.1 67H1751.3M1746.7 62.4V71.6M1743.4 63.7L1750 70.3M1743.4 70.3L1750 63.7" stroke="#ff0000" stroke-width="1.6" fill="none"/><path d="M1749.9 77.6H1759.1M1754.5 73V82.2M1751.1 74.3L1757.8 80.9M1751.1 80.9L1757.8 74.3" stroke="#ff0000" stroke-width="1.6" fill="none"/><path d="M1757.6 70.2H1766.8M1762.2 65.6V74.8M1758.9 66.9L1765.5 73.5M1758.9 73.5L1765.5 66.9" stroke="#ff0000" stroke-width="1.6" fill="none"/><path d="M1765.3 68.9H1774.5M1769.9 64.3V73.5M1766.6 65.6L1773.2 72.2M1766.6 72.2L1773.2 65.6" stroke="#ff0000" stroke-width="1.6" fill="none"/><path d="M1773.1 63.6H1782.2M1777.7 59V68.2M1774.3 60.3L1781 66.9M1774.3 66.9L1781 60.3" stroke="#ff0000" stroke-width="1.6" fill="none"/><path d="M1780.8 63.6H1790M1785.4 59V68.2M1782.1 60.3L1788.7 66.9M1782.1 66.9L1788.7 60.3" stroke="#ff0000" stroke-width="1.6" fill="none"/><path d="M1788.5 66.2H1797.7M1793.1 61.6V70.8M1789.8 62.9L1796.4 69.5M1789.8 69.5L1796.4 62.9" stroke="#ff0000" stroke-width="1.6" fill="none"/><path d="M1796.2 67H1805.4M1800.8 62.4V71.6M1797.5 63.7L1804.2 70.3M1797.5 70.3L1804.2 63.7" stroke="#ff0000" stroke-width="1.6" fill="none"/><path d="M1804 58.3H1813.2M1808.6 53.7V62.9M1805.3 55L1811.9 61.6M1805.3 61.6L1811.9 55" stroke="#ff0000" stroke-width="1.6" fill="none"/><path d="M1811.7 65.2H1820.9M1816.3 60.6V69.8M1813 61.9L1819.6 68.5M1813 68.5L1819.6 61.9" stroke="#ff0000" stroke-width="1.6" fill="none"/><path d="M1819.4 58.3H1828.6M1824 53.7V62.9M1820.7 55L1827.3 61.6M1820.7 61.6L1827.3 55" stroke="#ff0000" stroke-width="1.6" fill="none"/><path d="M1827.2 61H1836.4M1831.8 56.4V65.6M1828.4 57.7L1835.1 64.3M1828.4 64.3L1835.1 57.7" stroke="#ff0000" stroke-width="1.6" fill="none"/><path d="M1834.9 60.1H1844.1M1839.5 55.5V64.7M1836.2 56.8L1842.8 63.4M1836.2 63.4L1842.8 56.8" stroke="#ff0000" stroke-width="1.6" fill="none"/><path d="M1842.6 65.4H1851.8M1847.2 60.8V70M1843.9 62.1L1850.5 68.7M1843.9 68.7L1850.5 62.1" stroke="#ff0000" stroke-width="1.6" fill="none"/><path d="M1850.4 65.4H1859.5M1855 60.8V70M1851.6 62.1L1858.3 68.7M1851.6 68.7L1858.3 62.1" stroke="#ff0000" stroke-width="1.6" fill="none"/><path d="M1858.1 59.1H1867.3M1862.7 54.5V63.7M1859.4 55.8L1866 62.4M1859.4 62.4L1866 55.8" stroke="#ff0000" stroke-width="1.6" fill="none"/><path d="M1865.8 53H1875M1870.4 48.4V57.6M1867.1 49.7L1873.7 56.3M1867.1 56.3L1873.7 49.7" stroke="#ff0000" stroke-width="1.6" fill="none"/><path d="M1873.5 65.4H1882.7M1878.1 60.8V70M1874.8 62.1L1881.5 68.7M1874.8 68.7L1881.5 62.1" stroke="#ff0000" stroke-width="1.6" fill="none"/><path d="M1881.3 57H1890.5M1885.9 52.4V61.6M1882.6 53.7L1889.2 60.3M1882.6 60.3L1889.2 53.7" stroke="#ff0000" stroke-width="1.6" fill="none"/><path d="M1889 53H1898.2M1893.6 48.4V57.6M1890.3 49.7L1896.9 56.3M1890.3 56.3L1896.9 49.7" stroke="#ff0000" stroke-width="1.6" fill="none"/><path d="M1896.7 59.1H1905.9M1901.3 54.5V63.7M1898 55.8L1904.6 62.4M1898 62.4L1904.6 55.8" stroke="#ff0000" stroke-width="1.6" fill="none"/><path d="M1904.5 63.6H1913.7M1909.1 59V68.2M1905.7 60.3L1912.4 66.9M1905.7 66.9L1912.4 60.3" stroke="#ff0000" stroke-width="1.6" fill="none"/><path d="M1912.2 60.1H1921.4M1916.8 55.5V64.7M1913.5 56.8L1920.1 63.4M1913.5 63.4L1920.1 56.8" stroke="#ff0000" stroke-width="1.6" fill="none"/><path d="M1919.9 53H1929.1M1924.5 48.4V57.6M1921.2 49.7L1927.8 56.3M1921.2 56.3L1927.8 49.7" stroke="#ff0000" stroke-width="1.6" fill="none"/><path d="M1927.7 63.6H1936.8M1932.2 59V68.2M1928.9 60.3L1935.6 66.9M1928.9 66.9L1935.6 60.3" stroke="#ff0000" stroke-width="1.6" fill="none"/><path d="M1935.4 70.2H1944.6M1940 65.6V74.8M1936.7 66.9L1943.3 73.5M1936.7 73.5L1943.3 66.9" stroke="#ff0000" stroke-width="1.6" fill="none"/></g>
<polyline points="1429.8,409.4 1437.5,409.4 1445.3,409.4 1453,409.4 1460.7,409.4 1468.5,409.4 1476.2,409.4 1483.9,409.4 1491.6,409.4 1499.4,409.4 1507.1,409.4 1514.8,409.4 1522.6,409.4 1530.3,409.4 1538,409.4 1545.8,409.4 1553.5,409.4 1561.2,409.4 1568.9,409.4 1576.7,409.4 1584.4,409.4 1592.1,409.4 1599.9,409.4 1607.6,409.4 1615.3,409.4 1623,409.4 1630.8,409.4 1638.5,409.4 1646.2,409.4 1654,397.5 1661.7,382.5 1669.4,372.4 1677.2,365.8 1684.9,358.7 1692.6,357.1 1700.3,347.4 1708.1,339.4 1715.8,343.9 1723.5,353.4 1731.3,357.1 1739,354.5 1746.7,338.1 1754.5,331.5 1762.2,330.7 1769.9,328.9 1777.7,322.3 1785.4,319.6 1793.1,315 1800.8,316.5 1808.6,329.7 1816.3,335.5 1824,323.6 1831.8,317 1839.5,340.2 1847.2,409.4 1855,370.6 1862.7,378.3 1870.4,339.4 1878.1,350.8 1885.9,347.4 1893.6,321 1901.3,307 1909.1,303.8 1916.8,311.7 1924.5,290.6 1932.2,301.7 1940,296.4" fill="none" stroke="#00ff00" stroke-width="1.8" stroke-linejoin="round"/><g><rect x="1425.3" y="404.9" width="9" height="9" fill="#00ff00"/><rect x="1433" y="404.9" width="9" height="9" fill="#00ff00"/><rect x="1440.8" y="404.9" width="9" height="9" fill="#00ff00"/><rect x="1448.5" y="404.9" width="9" height="9" fill="#00ff00"/><rect x="1456.2" y="404.9" width="9" height="9" fill="#00ff00"/><rect x="1464" y="404.9" width="9" height="9" fill="#00ff00"/><rect x="1471.7" y="404.9" width="9" height="9" fill="#00ff00"/><rect x="1479.4" y="404.9" width="9" height="9" fill="#00ff00"/><rect x="1487.1" y="404.9" width="9" height="9" fill="#00ff00"/><rect x="1494.9" y="404.9" width="9" height="9" fill="#00ff00"/><rect x="1502.6" y="404.9" width="9" height="9" fill="#00ff00"/><rect x="1510.3" y="404.9" width="9" height="9" fill="#00ff00"/><rect x="1518.1" y="404.9" width="9" height="9" fill="#00ff00"/><rect x="1525.8" y="404.9" width="9" height="9" fill="#00ff00"/><rect x="1533.5" y="404.9" width="9" height="9" fill="#00ff00"/><rect x="1541.2" y="404.9" width="9" height="9" fill="#00ff00"/><rect x="1549" y="404.9" width="9" height="9" fill="#00ff00"/><rect x="1556.7" y="404.9" width="9" height="9" fill="#00ff00"/><rect x="1564.4" y="404.9" width="9" height="9" fill="#00ff00"/><rect x="1572.2" y="404.9" width="9" height="9" fill="#00ff00"/><rect x="1579.9" y="404.9" width="9" height="9" fill="#00ff00"/><rect x="1587.6" y="404.9" width="9" height="9" fill="#00ff00"/><rect x="1595.4" y="404.9" width="9" height="9" fill="#00ff00"/><rect x="1603.1" y="404.9" width="9" height="9" fill="#00ff00"/><rect x="1610.8" y="404.9" width="9" height="9" fill="#00ff00"/><rect x="1618.5" y="404.9" width="9" height="9" fill="#00ff00"/><rect x="1626.3" y="404.9" width="9" height="9" fill="#00ff00"/><rect x="1634" y="404.9" width="9" height="9" fill="#00ff00"/><rect x="1641.7" y="404.9" width="9" height="9" fill="#00ff00"/><rect x="1649.5" y="393" width="9" height="9" fill="#00ff00"/><rect x="1657.2" y="378" width="9" height="9" fill="#00ff00"/><rect x="1664.9" y="367.9" width="9" height="9" fill="#00ff00"/><rect x="1672.7" y="361.3" width="9" height="9" fill="#00ff00"/><rect x="1680.4" y="354.2" width="9" height="9" fill="#00ff00"/><rect x="1688.1" y="352.6" width="9" height="9" fill="#00ff00"/><rect x="1695.8" y="342.9" width="9" height="9" fill="#00ff00"/><rect x="1703.6" y="334.9" width="9" height="9" fill="#00ff00"/><rect x="1711.3" y="339.4" width="9" height="9" fill="#00ff00"/><rect x="1719" y="348.9" width="9" height="9" fill="#00ff00"/><rect x="1726.8" y="352.6" width="9" height="9" fill="#00ff00"/><rect x="1734.5" y="350" width="9" height="9" fill="#00ff00"/><rect x="1742.2" y="333.6" width="9" height="9" fill="#00ff00"/><rect x="1750" y="327" width="9" height="9" fill="#00ff00"/><rect x="1757.7" y="326.2" width="9" height="9" fill="#00ff00"/><rect x="1765.4" y="324.4" width="9" height="9" fill="#00ff00"/><rect x="1773.2" y="317.8" width="9" height="9" fill="#00ff00"/><rect x="1780.9" y="315.1" width="9" height="9" fill="#00ff00"/><rect x="1788.6" y="310.5" width="9" height="9" fill="#00ff00"/><rect x="1796.3" y="312" width="9" height="9" fill="#00ff00"/><rect x="1804.1" y="325.2" width="9" height="9" fill="#00ff00"/><rect x="1811.8" y="331" width="9" height="9" fill="#00ff00"/><rect x="1819.5" y="319.1" width="9" height="9" fill="#00ff00"/><rect x="1827.3" y="312.5" width="9" height="9" fill="#00ff00"/><rect x="1835" y="335.7" width="9" height="9" fill="#00ff00"/><rect x="1842.7" y="404.9" width="9" height="9" fill="#00ff00"/><rect x="1850.5" y="366.1" width="9" height="9" fill="#00ff00"/><rect x="1858.2" y="373.8" width="9" height="9" fill="#00ff00"/><rect x="1865.9" y="334.9" width="9" height="9" fill="#00ff00"/><rect x="1873.6" y="346.3" width="9" height="9" fill="#00ff00"/><rect x="1881.4" y="342.9" width="9" height="9" fill="#00ff00"/><rect x="1889.1" y="316.5" width="9" height="9" fill="#00ff00"/><rect x="1896.8" y="302.5" width="9" height="9" fill="#00ff00"/><rect x="1904.6" y="299.3" width="9" height="9" fill="#00ff00"/><rect x="1912.3" y="307.2" width="9" height="9" fill="#00ff00"/><rect x="1920" y="286.1" width="9" height="9" fill="#00ff00"/><rect x="1927.8" y="297.2" width="9" height="9" fill="#00ff00"/><rect x="1935.5" y="291.9" width="9" height="9" fill="#00ff00"/></g>
<polyline points="1429.8,409.4 1437.5,409.4 1445.3,409.4 1453,409.4 1460.7,409.4 1468.5,409.4 1476.2,409.4 1483.9,409.4 1491.6,409.4 1499.4,409.4 1507.1,409.4 1514.8,409.4 1522.6,409.4 1530.3,409.4 1538,409.4 1545.8,409.4 1553.5,409.4 1561.2,409.4 1568.9,409.4 1576.7,409.4 1584.4,409.4 1592.1,409.4 1599.9,409.4 1607.6,409.4 1615.3,409.4 1623,409.4 1630.8,409.4 1638.5,409.4 1646.2,409.4 1654,409.4 1661.7,409.4 1669.4,409.4 1677.2,409.4 1684.9,409.4 1692.6,409.4 1700.3,409.4 1708.1,409.4 1715.8,409.4 1723.5,409.4 1731.3,409.4 1739,409.4 1746.7,401.5 1754.5,375.6 1762.2,373 1769.9,359.2 1777.7,343.4 1785.4,332.3 1793.1,306.4 1800.8,295.5 1808.6,289.3 1816.3,270.4 1824,251.1 1831.8,237.9 1839.5,223.4 1847.2,237.9 1855,245.8 1862.7,237.1 1870.4,226 1878.1,227.4 1885.9,222.1 1893.6,211.5 1901.3,221.3 1909.1,224.7 1916.8,179 1924.5,189.6 1932.2,189 1940,189.6" fill="none" stroke="#00ffff" stroke-width="1.8" stroke-linejoin="round" stroke-dasharray="9 5"/><g><path d="M1429.8 402.4L1436.5 414.6L1423.1 414.6Z" fill="#00ffff"/><path d="M1437.5 402.4L1444.2 414.6L1430.8 414.6Z" fill="#00ffff"/><path d="M1445.3 402.4L1452 414.6L1438.6 414.6Z" fill="#00ffff"/><path d="M1453 402.4L1459.7 414.6L1446.3 414.6Z" fill="#00ffff"/><path d="M1460.7 402.4L1467.4 414.6L1454 414.6Z" fill="#00ffff"/><path d="M1468.5 402.4L1475.2 414.6L1461.8 414.6Z" fill="#00ffff"/><path d="M1476.2 402.4L1482.9 414.6L1469.5 414.6Z" fill="#00ffff"/><path d="M1483.9 402.4L1490.6 414.6L1477.2 414.6Z" fill="#00ffff"/><path d="M1491.6 402.4L1498.3 414.6L1484.9 414.6Z" fill="#00ffff"/><path d="M1499.4 402.4L1506.1 414.6L1492.7 414.6Z" fill="#00ffff"/><path d="M1507.1 402.4L1513.8 414.6L1500.4 414.6Z" fill="#00ffff"/><path d="M1514.8 402.4L1521.5 414.6L1508.1 414.6Z" fill="#00ffff"/><path d="M1522.6 402.4L1529.3 414.6L1515.9 414.6Z" fill="#00ffff"/><path d="M1530.3 402.4L1537 414.6L1523.6 414.6Z" fill="#00ffff"/><path d="M1538 402.4L1544.7 414.6L1531.3 414.6Z" fill="#00ffff"/><path d="M1545.8 402.4L1552.5 414.6L1539 414.6Z" fill="#00ffff"/><path d="M1553.5 402.4L1560.2 414.6L1546.8 414.6Z" fill="#00ffff"/><path d="M1561.2 402.4L1567.9 414.6L1554.5 414.6Z" fill="#00ffff"/><path d="M1568.9 402.4L1575.6 414.6L1562.2 414.6Z" fill="#00ffff"/><path d="M1576.7 402.4L1583.4 414.6L1570 414.6Z" fill="#00ffff"/><path d="M1584.4 402.4L1591.1 414.6L1577.7 414.6Z" fill="#00ffff"/><path d="M1592.1 402.4L1598.8 414.6L1585.4 414.6Z" fill="#00ffff"/><path d="M1599.9 402.4L1606.6 414.6L1593.2 414.6Z" fill="#00ffff"/><path d="M1607.6 402.4L1614.3 414.6L1600.9 414.6Z" fill="#00ffff"/><path d="M1615.3 402.4L1622 414.6L1608.6 414.6Z" fill="#00ffff"/><path d="M1623 402.4L1629.8 414.6L1616.3 414.6Z" fill="#00ffff"/><path d="M1630.8 402.4L1637.5 414.6L1624.1 414.6Z" fill="#00ffff"/><path d="M1638.5 402.4L1645.2 414.6L1631.8 414.6Z" fill="#00ffff"/><path d="M1646.2 402.4L1652.9 414.6L1639.5 414.6Z" fill="#00ffff"/><path d="M1654 402.4L1660.7 414.6L1647.3 414.6Z" fill="#00ffff"/><path d="M1661.7 402.4L1668.4 414.6L1655 414.6Z" fill="#00ffff"/><path d="M1669.4 402.4L1676.1 414.6L1662.7 414.6Z" fill="#00ffff"/><path d="M1677.2 402.4L1683.9 414.6L1670.5 414.6Z" fill="#00ffff"/><path d="M1684.9 402.4L1691.6 414.6L1678.2 414.6Z" fill="#00ffff"/><path d="M1692.6 402.4L1699.3 414.6L1685.9 414.6Z" fill="#00ffff"/><path d="M1700.3 402.4L1707 414.6L1693.6 414.6Z" fill="#00ffff"/><path d="M1708.1 402.4L1714.8 414.6L1701.4 414.6Z" fill="#00ffff"/><path d="M1715.8 402.4L1722.5 414.6L1709.1 414.6Z" fill="#00ffff"/><path d="M1723.5 402.4L1730.2 414.6L1716.8 414.6Z" fill="#00ffff"/><path d="M1731.3 402.4L1738 414.6L1724.6 414.6Z" fill="#00ffff"/><path d="M1739 402.4L1745.7 414.6L1732.3 414.6Z" fill="#00ffff"/><path d="M1746.7 394.5L1753.4 406.7L1740 406.7Z" fill="#00ffff"/><path d="M1754.5 368.6L1761.2 380.8L1747.8 380.8Z" fill="#00ffff"/><path d="M1762.2 366L1768.9 378.2L1755.5 378.2Z" fill="#00ffff"/><path d="M1769.9 352.2L1776.6 364.4L1763.2 364.4Z" fill="#00ffff"/><path d="M1777.7 336.4L1784.4 348.6L1771 348.6Z" fill="#00ffff"/><path d="M1785.4 325.3L1792.1 337.5L1778.7 337.5Z" fill="#00ffff"/><path d="M1793.1 299.4L1799.8 311.6L1786.4 311.6Z" fill="#00ffff"/><path d="M1800.8 288.5L1807.5 300.7L1794.1 300.7Z" fill="#00ffff"/><path d="M1808.6 282.3L1815.3 294.5L1801.9 294.5Z" fill="#00ffff"/><path d="M1816.3 263.4L1823 275.6L1809.6 275.6Z" fill="#00ffff"/><path d="M1824 244.1L1830.7 256.3L1817.3 256.3Z" fill="#00ffff"/><path d="M1831.8 230.9L1838.5 243.1L1825.1 243.1Z" fill="#00ffff"/><path d="M1839.5 216.4L1846.2 228.6L1832.8 228.6Z" fill="#00ffff"/><path d="M1847.2 230.9L1853.9 243.1L1840.5 243.1Z" fill="#00ffff"/><path d="M1855 238.8L1861.7 251L1848.2 251Z" fill="#00ffff"/><path d="M1862.7 230.1L1869.4 242.3L1856 242.3Z" fill="#00ffff"/><path d="M1870.4 219L1877.1 231.2L1863.7 231.2Z" fill="#00ffff"/><path d="M1878.1 220.4L1884.8 232.6L1871.4 232.6Z" fill="#00ffff"/><path d="M1885.9 215.1L1892.6 227.3L1879.2 227.3Z" fill="#00ffff"/><path d="M1893.6 204.5L1900.3 216.7L1886.9 216.7Z" fill="#00ffff"/><path d="M1901.3 214.3L1908 226.5L1894.6 226.5Z" fill="#00ffff"/><path d="M1909.1 217.7L1915.8 229.9L1902.4 229.9Z" fill="#00ffff"/><path d="M1916.8 172L1923.5 184.2L1910.1 184.2Z" fill="#00ffff"/><path d="M1924.5 182.6L1931.2 194.8L1917.8 194.8Z" fill="#00ffff"/><path d="M1932.2 182L1939 194.2L1925.5 194.2Z" fill="#00ffff"/><path d="M1940 182.6L1946.7 194.8L1933.3 194.8Z" fill="#00ffff"/></g>
<polyline points="1429.8,166.1 1437.5,134.9 1445.3,144.9 1453,148.6 1460.7,138.9 1468.5,131.7 1476.2,139.7 1483.9,123.8 1491.6,118.5 1499.4,125.7 1507.1,129.6 1514.8,135.4 1522.6,146 1530.3,136.2 1538,138.9 1545.8,138.9 1553.5,148.1 1561.2,148.5 1568.9,146.3 1576.7,132.3 1584.4,134.1 1592.1,120.4 1599.9,133 1607.6,138.9 1615.3,133 1623,148.9 1630.8,130.4 1638.5,134.9 1646.2,136.2 1654,146.8 1661.7,133 1669.4,134.9 1677.2,133.6 1684.9,136.2 1692.6,120.4 1700.3,140.2 1708.1,137.5 1715.8,133.6 1723.5,150.7 1731.3,121.7 1739,124.3 1746.7,142.8 1754.5,126.2 1762.2,125.7 1769.9,150.7 1777.7,134.9 1785.4,136.2 1793.1,132.3 1800.8,130.9 1808.6,134.9 1816.3,128.8 1824,137.5 1831.8,127 1839.5,132.3 1847.2,142.8 1855,136.2 1862.7,140.2 1870.4,133 1878.1,136.2 1885.9,134.1 1893.6,141 1901.3,135.7 1909.1,134.9 1916.8,128.8 1924.5,139.4 1932.2,149.4 1940,146.3" fill="none" stroke="#ff00ff" stroke-width="1.8" stroke-linejoin="round"/><g><circle cx="1429.8" cy="166.1" r="5.3" fill="#ff00ff"/><circle cx="1437.5" cy="134.9" r="5.3" fill="#ff00ff"/><circle cx="1445.3" cy="144.9" r="5.3" fill="#ff00ff"/><circle cx="1453" cy="148.6" r="5.3" fill="#ff00ff"/><circle cx="1460.7" cy="138.9" r="5.3" fill="#ff00ff"/><circle cx="1468.5" cy="131.7" r="5.3" fill="#ff00ff"/><circle cx="1476.2" cy="139.7" r="5.3" fill="#ff00ff"/><circle cx="1483.9" cy="123.8" r="5.3" fill="#ff00ff"/><circle cx="1491.6" cy="118.5" r="5.3" fill="#ff00ff"/><circle cx="1499.4" cy="125.7" r="5.3" fill="#ff00ff"/><circle cx="1507.1" cy="129.6" r="5.3" fill="#ff00ff"/><circle cx="1514.8" cy="135.4" r="5.3" fill="#ff00ff"/><circle cx="1522.6" cy="146" r="5.3" fill="#ff00ff"/><circle cx="1530.3" cy="136.2" r="5.3" fill="#ff00ff"/><circle cx="1538" cy="138.9" r="5.3" fill="#ff00ff"/><circle cx="1545.8" cy="138.9" r="5.3" fill="#ff00ff"/><circle cx="1553.5" cy="148.1" r="5.3" fill="#ff00ff"/><circle cx="1561.2" cy="148.5" r="5.3" fill="#ff00ff"/><circle cx="1568.9" cy="146.3" r="5.3" fill="#ff00ff"/><circle cx="1576.7" cy="132.3" r="5.3" fill="#ff00ff"/><circle cx="1584.4" cy="134.1" r="5.3" fill="#ff00ff"/><circle cx="1592.1" cy="120.4" r="5.3" fill="#ff00ff"/><circle cx="1599.9" cy="133" r="5.3" fill="#ff00ff"/><circle cx="1607.6" cy="138.9" r="5.3" fill="#ff00ff"/><circle cx="1615.3" cy="133" r="5.3" fill="#ff00ff"/><circle cx="1623" cy="148.9" r="5.3" fill="#ff00ff"/><circle cx="1630.8" cy="130.4" r="5.3" fill="#ff00ff"/><circle cx="1638.5" cy="134.9" r="5.3" fill="#ff00ff"/><circle cx="1646.2" cy="136.2" r="5.3" fill="#ff00ff"/><circle cx="1654" cy="146.8" r="5.3" fill="#ff00ff"/><circle cx="1661.7" cy="133" r="5.3" fill="#ff00ff"/><circle cx="1669.4" cy="134.9" r="5.3" fill="#ff00ff"/><circle cx="1677.2" cy="133.6" r="5.3" fill="#ff00ff"/><circle cx="1684.9" cy="136.2" r="5.3" fill="#ff00ff"/><circle cx="1692.6" cy="120.4" r="5.3" fill="#ff00ff"/><circle cx="1700.3" cy="140.2" r="5.3" fill="#ff00ff"/><circle cx="1708.1" cy="137.5" r="5.3" fill="#ff00ff"/><circle cx="1715.8" cy="133.6" r="5.3" fill="#ff00ff"/><circle cx="1723.5" cy="150.7" r="5.3" fill="#ff00ff"/><circle cx="1731.3" cy="121.7" r="5.3" fill="#ff00ff"/><circle cx="1739" cy="124.3" r="5.3" fill="#ff00ff"/><circle cx="1746.7" cy="142.8" r="5.3" fill="#ff00ff"/><circle cx="1754.5" cy="126.2" r="5.3" fill="#ff00ff"/><circle cx="1762.2" cy="125.7" r="5.3" fill="#ff00ff"/><circle cx="1769.9" cy="150.7" r="5.3" fill="#ff00ff"/><circle cx="1777.7" cy="134.9" r="5.3" fill="#ff00ff"/><circle cx="1785.4" cy="136.2" r="5.3" fill="#ff00ff"/><circle cx="1793.1" cy="132.3" r="5.3" fill="#ff00ff"/><circle cx="1800.8" cy="130.9" r="5.3" fill="#ff00ff"/><circle cx="1808.6" cy="134.9" r="5.3" fill="#ff00ff"/><circle cx="1816.3" cy="128.8" r="5.3" fill="#ff00ff"/><circle cx="1824" cy="137.5" r="5.3" fill="#ff00ff"/><circle cx="1831.8" cy="127" r="5.3" fill="#ff00ff"/><circle cx="1839.5" cy="132.3" r="5.3" fill="#ff00ff"/><circle cx="1847.2" cy="142.8" r="5.3" fill="#ff00ff"/><circle cx="1855" cy="136.2" r="5.3" fill="#ff00ff"/><circle cx="1862.7" cy="140.2" r="5.3" fill="#ff00ff"/><circle cx="1870.4" cy="133" r="5.3" fill="#ff00ff"/><circle cx="1878.1" cy="136.2" r="5.3" fill="#ff00ff"/><circle cx="1885.9" cy="134.1" r="5.3" fill="#ff00ff"/><circle cx="1893.6" cy="141" r="5.3" fill="#ff00ff"/><circle cx="1901.3" cy="135.7" r="5.3" fill="#ff00ff"/><circle cx="1909.1" cy="134.9" r="5.3" fill="#ff00ff"/><circle cx="1916.8" cy="128.8" r="5.3" fill="#ff00ff"/><circle cx="1924.5" cy="139.4" r="5.3" fill="#ff00ff"/><circle cx="1932.2" cy="149.4" r="5.3" fill="#ff00ff"/><circle cx="1940" cy="146.3" r="5.3" fill="#ff00ff"/></g>
<polyline points="1429.8,40.1 1437.5,45.4 1445.3,44.9 1453,39.1 1460.7,49.7 1468.5,48.9 1476.2,45.4 1483.9,42.8 1491.6,43.6 1499.4,44.4 1507.1,40.9 1514.8,48.9 1522.6,47 1530.3,47.5 1538,44.9 1545.8,47 1553.5,48.5 1561.2,56 1568.9,48 1576.7,51 1584.4,45.6 1592.1,46.7 1599.9,42 1607.6,44.3 1615.3,54.2 1623,46.7 1630.8,47.6 1638.5,50.5 1646.2,47 1654,49 1661.7,46.7 1669.4,44 1677.2,46.3 1684.9,50.7 1692.6,45.1 1700.3,38.5 1708.1,41.1 1715.8,49 1723.5,42.5 1731.3,53 1739,47.7 1746.7,49.6 1754.5,44.3 1762.2,46.4 1769.9,44.3 1777.7,48.5 1785.4,44.3 1793.1,43.8 1800.8,46.4 1808.6,47.7 1816.3,48.5 1824,45.1 1831.8,46.4 1839.5,49.6 1847.2,41.7 1855,39 1862.7,45.9 1870.4,49 1878.1,45.1 1885.9,50.4 1893.6,39.8 1901.3,43.2 1909.1,46.4 1916.8,47.7 1924.5,44.3 1932.2,47.7 1940,53" fill="none" stroke="#ffff00" stroke-width="1.8" stroke-linejoin="round" stroke-dasharray="9 5"/><g><path d="M1429.8 33.1L1436.5 45.3L1423.1 45.3Z" fill="#ffff00"/><path d="M1437.5 38.4L1444.2 50.6L1430.8 50.6Z" fill="#ffff00"/><path d="M1445.3 37.9L1452 50.1L1438.6 50.1Z" fill="#ffff00"/><path d="M1453 32.1L1459.7 44.3L1446.3 44.3Z" fill="#ffff00"/><path d="M1460.7 42.7L1467.4 54.9L1454 54.9Z" fill="#ffff00"/><path d="M1468.5 41.9L1475.2 54.1L1461.8 54.1Z" fill="#ffff00"/><path d="M1476.2 38.4L1482.9 50.6L1469.5 50.6Z" fill="#ffff00"/><path d="M1483.9 35.8L1490.6 48L1477.2 48Z" fill="#ffff00"/><path d="M1491.6 36.6L1498.3 48.8L1484.9 48.8Z" fill="#ffff00"/><path d="M1499.4 37.4L1506.1 49.6L1492.7 49.6Z" fill="#ffff00"/><path d="M1507.1 33.9L1513.8 46.1L1500.4 46.1Z" fill="#ffff00"/><path d="M1514.8 41.9L1521.5 54.1L1508.1 54.1Z" fill="#ffff00"/><path d="M1522.6 40L1529.3 52.2L1515.9 52.2Z" fill="#ffff00"/><path d="M1530.3 40.5L1537 52.7L1523.6 52.7Z" fill="#ffff00"/><path d="M1538 37.9L1544.7 50.1L1531.3 50.1Z" fill="#ffff00"/><path d="M1545.8 40L1552.5 52.2L1539 52.2Z" fill="#ffff00"/><path d="M1553.5 41.5L1560.2 53.7L1546.8 53.7Z" fill="#ffff00"/><path d="M1561.2 49L1567.9 61.2L1554.5 61.2Z" fill="#ffff00"/><path d="M1568.9 41L1575.6 53.2L1562.2 53.2Z" fill="#ffff00"/><path d="M1576.7 44L1583.4 56.2L1570 56.2Z" fill="#ffff00"/><path d="M1584.4 38.6L1591.1 50.8L1577.7 50.8Z" fill="#ffff00"/><path d="M1592.1 39.7L1598.8 51.9L1585.4 51.9Z" fill="#ffff00"/><path d="M1599.9 35L1606.6 47.2L1593.2 47.2Z" fill="#ffff00"/><path d="M1607.6 37.3L1614.3 49.5L1600.9 49.5Z" fill="#ffff00"/><path d="M1615.3 47.2L1622 59.4L1608.6 59.4Z" fill="#ffff00"/><path d="M1623 39.7L1629.8 51.9L1616.3 51.9Z" fill="#ffff00"/><path d="M1630.8 40.6L1637.5 52.8L1624.1 52.8Z" fill="#ffff00"/><path d="M1638.5 43.5L1645.2 55.7L1631.8 55.7Z" fill="#ffff00"/><path d="M1646.2 40L1652.9 52.2L1639.5 52.2Z" fill="#ffff00"/><path d="M1654 42L1660.7 54.2L1647.3 54.2Z" fill="#ffff00"/><path d="M1661.7 39.7L1668.4 51.9L1655 51.9Z" fill="#ffff00"/><path d="M1669.4 37L1676.1 49.2L1662.7 49.2Z" fill="#ffff00"/><path d="M1677.2 39.3L1683.9 51.5L1670.5 51.5Z" fill="#ffff00"/><path d="M1684.9 43.7L1691.6 55.9L1678.2 55.9Z" fill="#ffff00"/><path d="M1692.6 38.1L1699.3 50.3L1685.9 50.3Z" fill="#ffff00"/><path d="M1700.3 31.5L1707 43.7L1693.6 43.7Z" fill="#ffff00"/><path d="M1708.1 34.1L1714.8 46.3L1701.4 46.3Z" fill="#ffff00"/><path d="M1715.8 42L1722.5 54.2L1709.1 54.2Z" fill="#ffff00"/><path d="M1723.5 35.5L1730.2 47.7L1716.8 47.7Z" fill="#ffff00"/><path d="M1731.3 46L1738 58.2L1724.6 58.2Z" fill="#ffff00"/><path d="M1739 40.7L1745.7 52.9L1732.3 52.9Z" fill="#ffff00"/><path d="M1746.7 42.6L1753.4 54.8L1740 54.8Z" fill="#ffff00"/><path d="M1754.5 37.3L1761.2 49.5L1747.8 49.5Z" fill="#ffff00"/><path d="M1762.2 39.4L1768.9 51.6L1755.5 51.6Z" fill="#ffff00"/><path d="M1769.9 37.3L1776.6 49.5L1763.2 49.5Z" fill="#ffff00"/><path d="M1777.7 41.5L1784.4 53.7L1771 53.7Z" fill="#ffff00"/><path d="M1785.4 37.3L1792.1 49.5L1778.7 49.5Z" fill="#ffff00"/><path d="M1793.1 36.8L1799.8 49L1786.4 49Z" fill="#ffff00"/><path d="M1800.8 39.4L1807.5 51.6L1794.1 51.6Z" fill="#ffff00"/><path d="M1808.6 40.7L1815.3 52.9L1801.9 52.9Z" fill="#ffff00"/><path d="M1816.3 41.5L1823 53.7L1809.6 53.7Z" fill="#ffff00"/><path d="M1824 38.1L1830.7 50.3L1817.3 50.3Z" fill="#ffff00"/><path d="M1831.8 39.4L1838.5 51.6L1825.1 51.6Z" fill="#ffff00"/><path d="M1839.5 42.6L1846.2 54.8L1832.8 54.8Z" fill="#ffff00"/><path d="M1847.2 34.7L1853.9 46.9L1840.5 46.9Z" fill="#ffff00"/><path d="M1855 32L1861.7 44.2L1848.2 44.2Z" fill="#ffff00"/><path d="M1862.7 38.9L1869.4 51.1L1856 51.1Z" fill="#ffff00"/><path d="M1870.4 42L1877.1 54.2L1863.7 54.2Z" fill="#ffff00"/><path d="M1878.1 38.1L1884.8 50.3L1871.4 50.3Z" fill="#ffff00"/><path d="M1885.9 43.4L1892.6 55.6L1879.2 55.6Z" fill="#ffff00"/><path d="M1893.6 32.8L1900.3 45L1886.9 45Z" fill="#ffff00"/><path d="M1901.3 36.2L1908 48.4L1894.6 48.4Z" fill="#ffff00"/><path d="M1909.1 39.4L1915.8 51.6L1902.4 51.6Z" fill="#ffff00"/><path d="M1916.8 40.7L1923.5 52.9L1910.1 52.9Z" fill="#ffff00"/><path d="M1924.5 37.3L1931.2 49.5L1917.8 49.5Z" fill="#ffff00"/><path d="M1932.2 40.7L1939 52.9L1925.5 52.9Z" fill="#ffff00"/><path d="M1940 46L1946.7 58.2L1933.3 58.2Z" fill="#ffff00"/></g>
<text x="1429.9" y="436.6" text-anchor="middle">0</text>
<text x="1494.1" y="436.6" text-anchor="middle">0.5</text>
<text x="1558" y="436.6" text-anchor="middle">1</text>
<text x="1622.7" y="436.6" text-anchor="middle">1.5</text>
<text x="1686.7" y="436.6" text-anchor="middle">2</text>
<text x="1751.6" y="436.6" text-anchor="middle">2.5</text>
<text x="1815.8" y="436.6" text-anchor="middle">3</text>
<text x="1880.6" y="436.6" text-anchor="middle">3.5</text>
<text x="1944.3" y="436.6" text-anchor="middle">4</text>
<text x="1422.4" y="14.1" text-anchor="end">2</text>
<text x="1422.4" y="115" text-anchor="end">1.5</text>
<text x="1422.4" y="215.9" text-anchor="end">1</text>
<text x="1422.4" y="316.8" text-anchor="end">0.5</text>
<text x="1422.4" y="417.7" text-anchor="end">0</text>
<text transform="translate(1386.6 208.2) rotate(-90)" text-anchor="middle">SE</text>
<text x="1687.6" y="462.9" text-anchor="middle">control parameter</text>
<rect x="1479.6" y="235.6" width="157.2" height="152.4" fill="#fff" stroke="#262626" stroke-width="1.6"/>
<line x1="1483.9" y1="249.1" x2="1531.9" y2="249.1" stroke="#0000ff" stroke-width="2.0"/><path d="M1507.8 241.3L1513.3 249.1L1507.8 256.9L1502.3 249.1Z" fill="#0000ff"/>
<text x="1535.2" y="256.1">Proposed</text>
<line x1="1483.9" y1="274.3" x2="1531.9" y2="274.3" stroke="#ff0000" stroke-width="1.15" stroke-dasharray="9 5"/><path d="M1503.2 274.3H1512.4M1507.8 269.7V278.9M1504.5 271L1511.1 277.6M1504.5 277.6L1511.1 271" stroke="#ff0000" stroke-width="1.6" fill="none"/>
<text x="1535.2" y="281.3">2D-CSM</text>
<line x1="1483.9" y1="299.5" x2="1531.9" y2="299.5" stroke="#00ff00" stroke-width="2.0"/><rect x="1503.3" y="295" width="9" height="9" fill="#00ff00"/>
<text x="1535.2" y="306.5">2D-CSIM</text>
<line x1="1483.9" y1="324.7" x2="1531.9" y2="324.7" stroke="#00ffff" stroke-width="1.15" stroke-dasharray="9 5"/><path d="M1507.8 317.7L1514.5 329.9L1501.1 329.9Z" fill="#00ffff"/>
<text x="1535.2" y="331.7">2D-TFCDM</text>
<line x1="1483.9" y1="349.9" x2="1531.9" y2="349.9" stroke="#ff00ff" stroke-width="2.0"/><circle cx="1507.8" cy="349.9" r="5.3" fill="#ff00ff"/>
<text x="1535.2" y="356.9">2D-ILM</text>
<line x1="1483.9" y1="375.1" x2="1531.9" y2="375.1" stroke="#ffff00" stroke-width="1.15" stroke-dasharray="9 5"/><path d="M1507.8 368.1L1514.5 380.3L1501.1 380.3Z" fill="#ffff00"/>
<text x="1535.2" y="382.1">2D-CTM</text>
<text class="capb" x="189" y="522">(a)</text>
<text class="cap" x="245" y="522" style="font-style:italic;font-size:40px">α</text>
<text class="cap" x="279.3" y="522">versus SE</text>
<text class="capb" x="655" y="522">(b)</text>
<text class="cap" x="711" y="522">Comparison of SE for Chaotic sequence x</text>
<text class="capb" x="1343" y="522">(c)</text>
<text class="cap" x="1397" y="522">Comparison of SE for Chaotic sequence y</text>
</svg></body></html>
